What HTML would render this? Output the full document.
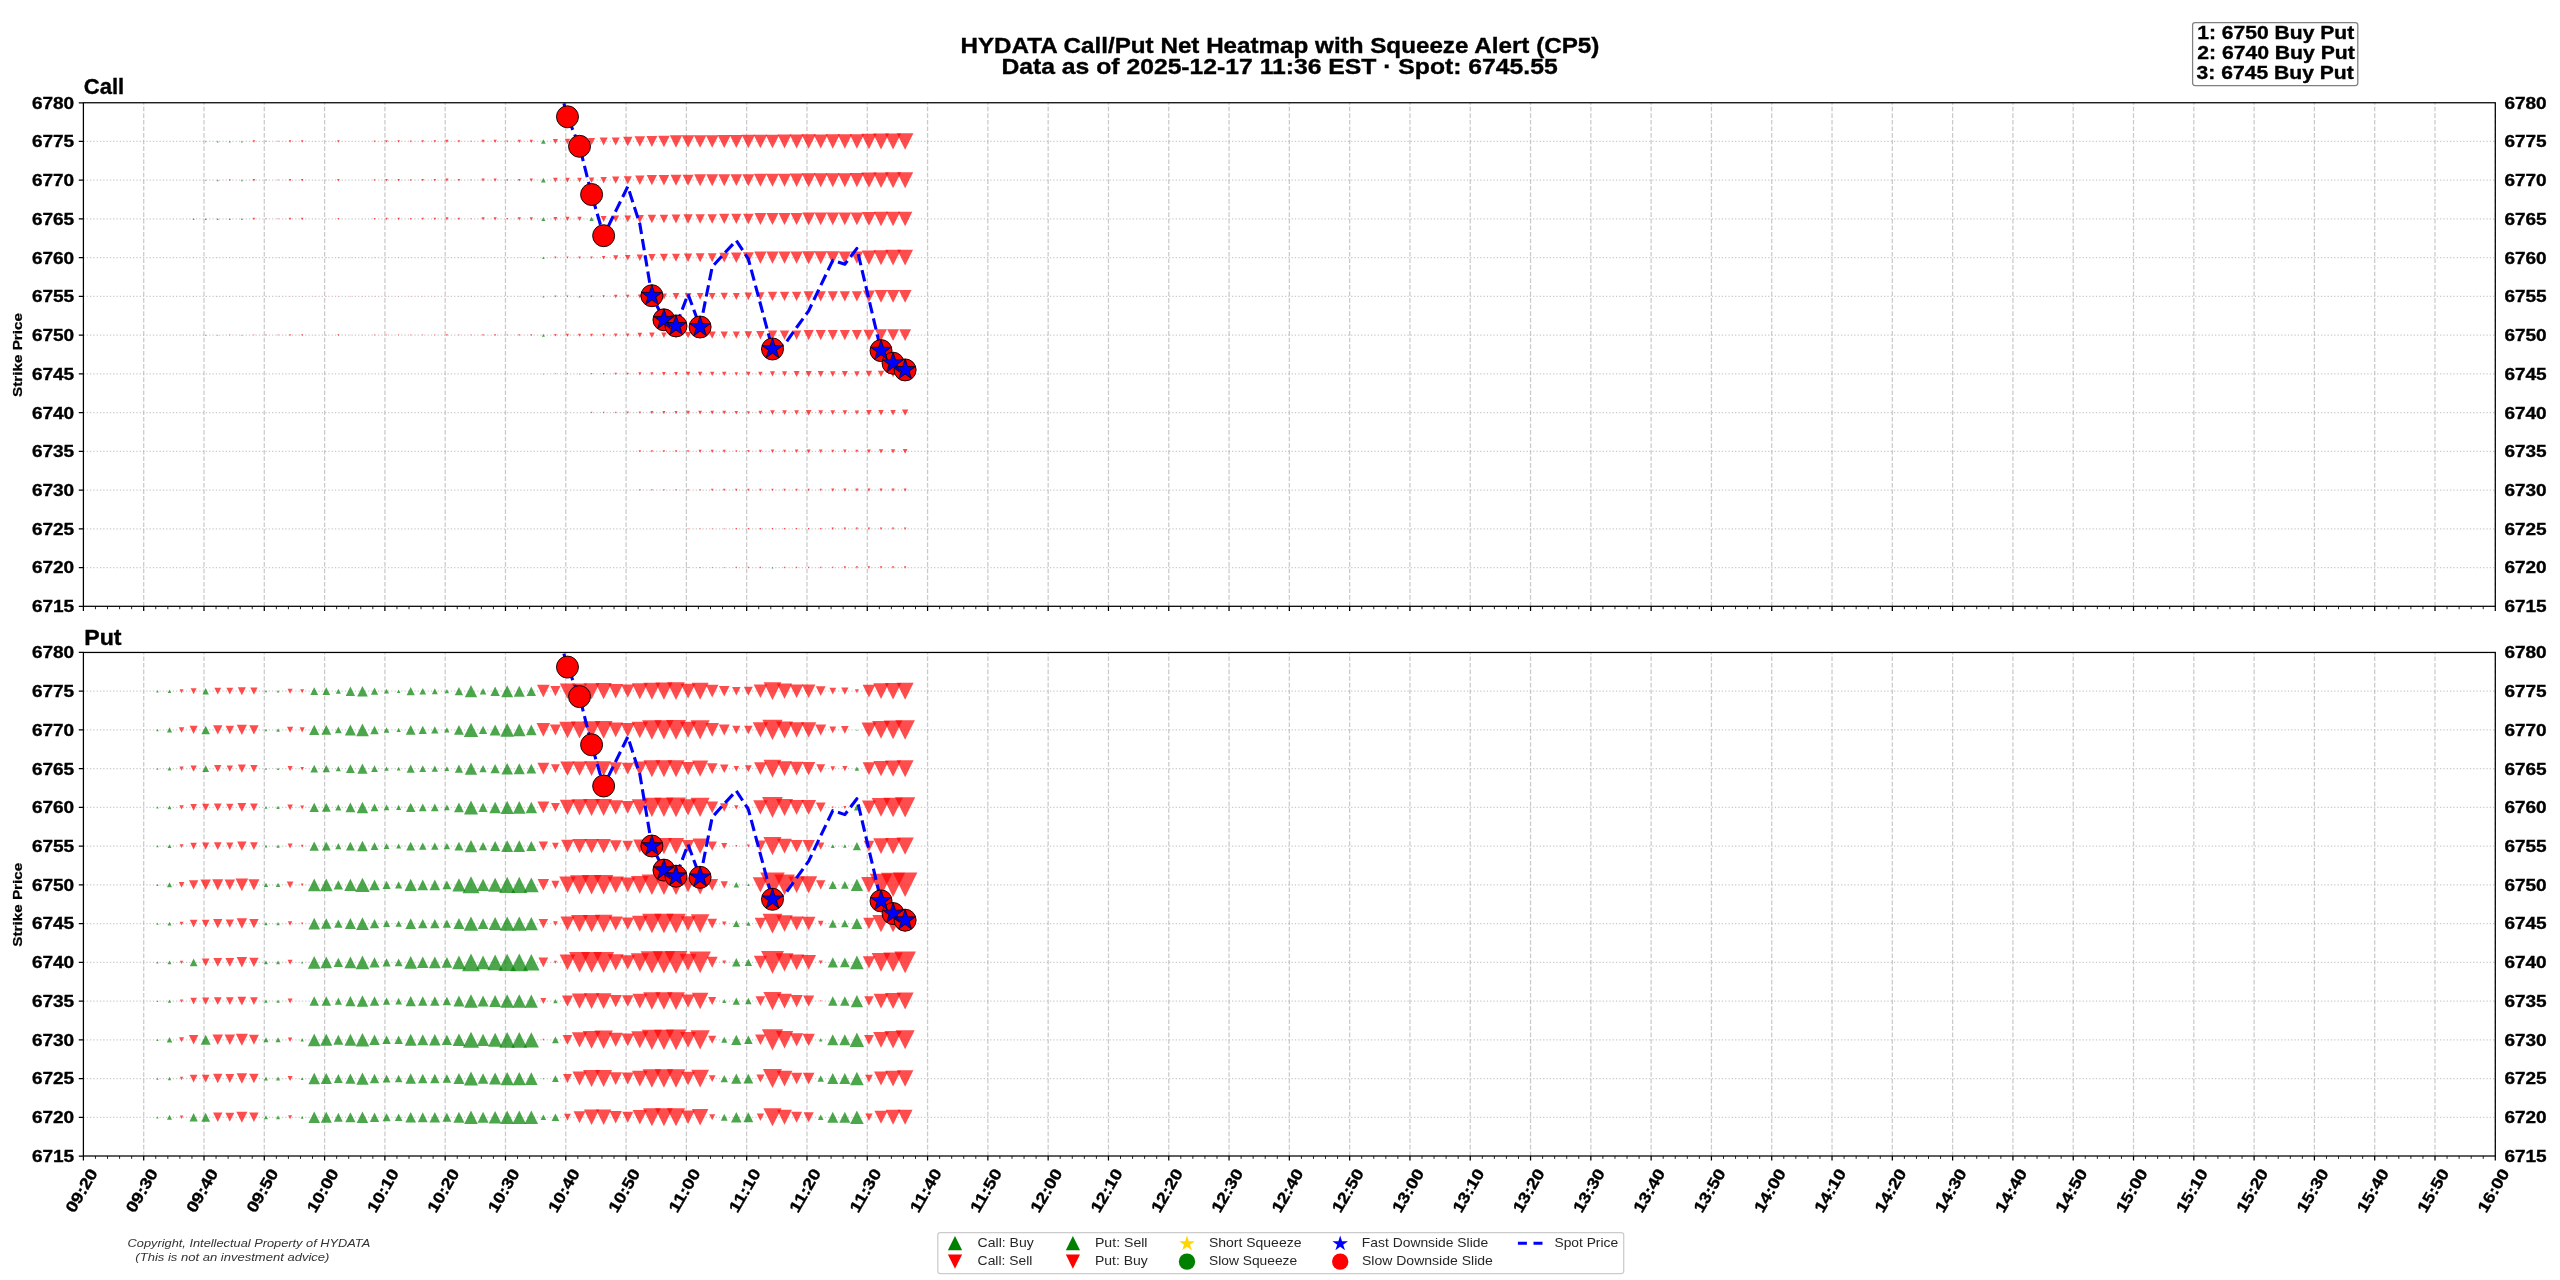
<!DOCTYPE html><html><head><meta charset="utf-8"><style>html,body{margin:0;padding:0;background:#fff}svg{display:block;will-change:transform}text{font-family:"Liberation Sans",sans-serif}</style></head><body>
<svg width="2560" height="1280" viewBox="0 0 2560 1280">
<rect width="2560" height="1280" fill="#fff"/>
<defs>
<clipPath id="clip_call"><rect x="83.4" y="102.75" width="2411.9" height="503.55"/></clipPath>
<clipPath id="clip_put"><rect x="83.4" y="652.45" width="2411.9" height="503.55"/></clipPath>
</defs>
<path d="M143.7 606.3V102.75M204 606.3V102.75M264.29 606.3V102.75M324.59 606.3V102.75M384.89 606.3V102.75M445.18 606.3V102.75M505.48 606.3V102.75M565.78 606.3V102.75M626.08 606.3V102.75M686.38 606.3V102.75M746.67 606.3V102.75M806.97 606.3V102.75M867.27 606.3V102.75M927.56 606.3V102.75M987.86 606.3V102.75M1048.16 606.3V102.75M1108.46 606.3V102.75M1168.76 606.3V102.75M1229.05 606.3V102.75M1289.35 606.3V102.75M1349.65 606.3V102.75M1409.95 606.3V102.75M1470.24 606.3V102.75M1530.54 606.3V102.75M1590.84 606.3V102.75M1651.13 606.3V102.75M1711.43 606.3V102.75M1771.73 606.3V102.75M1832.03 606.3V102.75M1892.33 606.3V102.75M1952.62 606.3V102.75M2012.92 606.3V102.75M2073.22 606.3V102.75M2133.51 606.3V102.75M2193.81 606.3V102.75M2254.11 606.3V102.75M2314.41 606.3V102.75M2374.7 606.3V102.75M2435 606.3V102.75M2495.3 606.3V102.75" stroke="#b0b0b0" stroke-opacity="0.67" stroke-width="1.25" stroke-dasharray="4.6 2" fill="none"/>
<path d="M83.4 567.57H2495.3M83.4 528.83H2495.3M83.4 490.1H2495.3M83.4 451.36H2495.3M83.4 412.63H2495.3M83.4 373.89H2495.3M83.4 335.16H2495.3M83.4 296.42H2495.3M83.4 257.69H2495.3M83.4 218.95H2495.3M83.4 180.22H2495.3M83.4 141.48H2495.3" stroke="#b0b0b0" stroke-opacity="0.67" stroke-width="1.25" stroke-dasharray="1.25 2.06" fill="none"/>
<g clip-path="url(#clip_call)">
<g fill="#008000" fill-opacity="0.7"><path d="M205.68 140.83L205.03 142.13L206.33 142.13Z"/><path d="M217.74 140.51L216.77 142.46L218.72 142.46Z"/><path d="M229.8 140.51L228.83 142.46L230.78 142.46Z"/><path d="M241.86 140.51L240.89 142.46L242.84 142.46Z"/><path d="M362.46 141.16L362.13 141.81L362.78 141.81Z"/><path d="M543.35 139.13L541 143.83L545.7 143.83Z"/><path d="M193.62 179.89L193.3 180.54L193.95 180.54Z"/><path d="M205.68 179.57L205.03 180.87L206.33 180.87Z"/><path d="M217.74 179.24L216.77 181.19L218.72 181.19Z"/><path d="M241.86 179.24L240.89 181.19L242.84 181.19Z"/><path d="M314.22 179.89L313.89 180.54L314.54 180.54Z"/><path d="M326.28 179.89L325.95 180.54L326.6 180.54Z"/><path d="M362.46 179.89L362.13 180.54L362.78 180.54Z"/><path d="M543.35 177.87L541 182.57L545.7 182.57Z"/><path d="M181.56 218.63L181.24 219.28L181.89 219.28Z"/><path d="M193.62 217.98L192.65 219.93L194.6 219.93Z"/><path d="M205.68 217.98L204.71 219.93L206.66 219.93Z"/><path d="M217.74 217.98L216.77 219.93L218.72 219.93Z"/><path d="M229.8 217.98L228.83 219.93L230.78 219.93Z"/><path d="M241.86 217.98L240.89 219.93L242.84 219.93Z"/><path d="M314.22 218.63L313.89 219.28L314.54 219.28Z"/><path d="M326.28 218.63L325.95 219.28L326.6 219.28Z"/><path d="M362.46 218.63L362.13 219.28L362.78 219.28Z"/><path d="M543.35 217L541.4 220.9L545.3 220.9Z"/><path d="M591.59 216.8L589.44 221.1L593.74 221.1Z"/><path d="M543.35 256.44L542.1 258.94L544.6 258.94Z"/><path d="M543.35 295.42L542.35 297.42L544.35 297.42Z"/><path d="M579.53 295.42L578.53 297.42L580.53 297.42Z"/><path d="M193.62 334.83L193.3 335.48L193.95 335.48Z"/><path d="M205.68 334.51L205.03 335.81L206.33 335.81Z"/><path d="M217.74 334.51L217.09 335.81L218.39 335.81Z"/><path d="M241.86 334.51L241.21 335.81L242.51 335.81Z"/><path d="M314.22 334.83L313.89 335.48L314.54 335.48Z"/><path d="M326.28 334.83L325.95 335.48L326.6 335.48Z"/><path d="M362.46 334.83L362.13 335.48L362.78 335.48Z"/><path d="M543.35 333.66L541.85 336.66L544.85 336.66Z"/><path d="M543.35 373.32L542.77 374.47L543.92 374.47Z"/><path d="M579.53 373.32L578.95 374.47L580.1 374.47Z"/><path d="M772.48 566.67L771.58 568.47L773.38 568.47Z"/></g>
<g fill="#ff0000" fill-opacity="0.7"><path d="M181.56 141.81L181.24 141.16L181.89 141.16Z"/><path d="M193.62 141.81L193.3 141.16L193.95 141.16Z"/><path d="M253.92 142.78L252.62 140.18L255.22 140.18Z"/><path d="M265.98 142.13L265.33 140.83L266.63 140.83Z"/><path d="M278.04 142.13L277.39 140.83L278.69 140.83Z"/><path d="M290.1 142.78L288.8 140.18L291.4 140.18Z"/><path d="M302.16 142.78L300.86 140.18L303.46 140.18Z"/><path d="M314.22 141.81L313.89 141.16L314.54 141.16Z"/><path d="M326.28 141.81L325.95 141.16L326.6 141.16Z"/><path d="M338.34 142.78L337.04 140.18L339.64 140.18Z"/><path d="M374.52 142.46L373.54 140.51L375.49 140.51Z"/><path d="M386.58 142.78L385.28 140.18L387.88 140.18Z"/><path d="M398.64 142.78L397.34 140.18L399.94 140.18Z"/><path d="M410.69 142.46L409.72 140.51L411.67 140.51Z"/><path d="M422.75 142.78L421.45 140.18L424.05 140.18Z"/><path d="M434.81 142.78L433.51 140.18L436.11 140.18Z"/><path d="M446.87 143.11L445.25 139.86L448.5 139.86Z"/><path d="M458.93 142.78L457.63 140.18L460.23 140.18Z"/><path d="M470.99 142.13L470.34 140.83L471.64 140.83Z"/><path d="M483.05 143.11L481.43 139.86L484.68 139.86Z"/><path d="M495.11 143.11L493.49 139.86L496.74 139.86Z"/><path d="M507.17 142.46L506.2 140.51L508.15 140.51Z"/><path d="M519.23 143.11L517.61 139.86L520.86 139.86Z"/><path d="M531.29 143.11L529.66 139.86L532.91 139.86Z"/><path d="M555.41 144.03L552.86 138.93L557.96 138.93Z"/><path d="M567.47 144.13L564.82 138.83L570.12 138.83Z"/><path d="M579.53 144.48L576.53 138.48L582.53 138.48Z"/><path d="M591.59 144.98L588.09 137.98L595.09 137.98Z"/><path d="M603.65 145.53L599.6 137.43L607.7 137.43Z"/><path d="M615.71 145.53L611.66 137.43L619.76 137.43Z"/><path d="M627.77 146.18L623.07 136.78L632.47 136.78Z"/><path d="M639.83 146.78L634.53 136.18L645.13 136.18Z"/><path d="M651.88 146.98L646.38 135.98L657.38 135.98Z"/><path d="M663.94 147.28L658.14 135.68L669.74 135.68Z"/><path d="M676 147.63L669.85 135.33L682.15 135.33Z"/><path d="M688.06 147.83L681.71 135.13L694.41 135.13Z"/><path d="M700.12 147.83L693.77 135.13L706.47 135.13Z"/><path d="M712.18 147.83L705.83 135.13L718.53 135.13Z"/><path d="M724.24 148.08L717.64 134.88L730.84 134.88Z"/><path d="M736.3 148.03L729.75 134.93L742.85 134.93Z"/><path d="M748.36 148.13L741.71 134.83L755.01 134.83Z"/><path d="M760.42 148.28L753.62 134.68L767.22 134.68Z"/><path d="M772.48 148.33L765.63 134.63L779.33 134.63Z"/><path d="M784.54 148.38L777.64 134.58L791.44 134.58Z"/><path d="M796.6 148.48L789.6 134.48L803.6 134.48Z"/><path d="M808.66 148.68L801.46 134.28L815.86 134.28Z"/><path d="M820.72 148.58L813.62 134.38L827.82 134.38Z"/><path d="M832.78 148.68L825.58 134.28L839.98 134.28Z"/><path d="M844.84 148.68L837.64 134.28L852.04 134.28Z"/><path d="M856.9 148.68L849.7 134.28L864.1 134.28Z"/><path d="M868.96 149.18L861.26 133.78L876.66 133.78Z"/><path d="M881.02 149.43L873.07 133.53L888.97 133.53Z"/><path d="M893.07 149.53L885.02 133.43L901.12 133.43Z"/><path d="M905.13 149.83L896.78 133.13L913.48 133.13Z"/><path d="M229.8 181.19L228.83 179.24L230.78 179.24Z"/><path d="M253.92 181.52L252.62 178.92L255.22 178.92Z"/><path d="M265.98 180.87L265.33 179.57L266.63 179.57Z"/><path d="M278.04 180.87L277.39 179.57L278.69 179.57Z"/><path d="M290.1 181.52L288.8 178.92L291.4 178.92Z"/><path d="M302.16 181.52L300.86 178.92L303.46 178.92Z"/><path d="M338.34 181.52L337.04 178.92L339.64 178.92Z"/><path d="M374.52 181.19L373.54 179.24L375.49 179.24Z"/><path d="M386.58 181.52L385.28 178.92L387.88 178.92Z"/><path d="M398.64 181.52L397.34 178.92L399.94 178.92Z"/><path d="M410.69 181.19L409.72 179.24L411.67 179.24Z"/><path d="M422.75 181.52L421.45 178.92L424.05 178.92Z"/><path d="M434.81 181.52L433.51 178.92L436.11 178.92Z"/><path d="M446.87 181.84L445.25 178.59L448.5 178.59Z"/><path d="M458.93 181.52L457.63 178.92L460.23 178.92Z"/><path d="M470.99 180.87L470.34 179.57L471.64 179.57Z"/><path d="M483.05 181.84L481.43 178.59L484.68 178.59Z"/><path d="M495.11 181.84L493.49 178.59L496.74 178.59Z"/><path d="M507.17 181.19L506.2 179.24L508.15 179.24Z"/><path d="M519.23 181.52L517.93 178.92L520.53 178.92Z"/><path d="M531.29 181.84L529.66 178.59L532.91 178.59Z"/><path d="M555.41 182.57L553.06 177.87L557.76 177.87Z"/><path d="M567.47 182.57L565.12 177.87L569.82 177.87Z"/><path d="M579.53 182.57L577.18 177.87L581.88 177.87Z"/><path d="M591.59 182.97L588.84 177.47L594.34 177.47Z"/><path d="M603.65 183.42L600.45 177.02L606.85 177.02Z"/><path d="M615.71 183.87L612.06 176.57L619.36 176.57Z"/><path d="M627.77 184.27L623.72 176.17L631.82 176.17Z"/><path d="M639.83 184.92L635.13 175.52L644.53 175.52Z"/><path d="M651.88 185.32L646.78 175.12L656.98 175.12Z"/><path d="M663.94 185.52L658.64 174.92L669.24 174.92Z"/><path d="M676 185.72L670.5 174.72L681.5 174.72Z"/><path d="M688.06 185.72L682.56 174.72L693.56 174.72Z"/><path d="M700.12 186.17L694.17 174.27L706.07 174.27Z"/><path d="M712.18 186.17L706.23 174.27L718.13 174.27Z"/><path d="M724.24 186.17L718.29 174.27L730.19 174.27Z"/><path d="M736.3 186.07L730.45 174.37L742.15 174.37Z"/><path d="M748.36 186.17L742.41 174.27L754.31 174.27Z"/><path d="M760.42 186.67L753.97 173.77L766.87 173.77Z"/><path d="M772.48 186.67L766.03 173.77L778.93 173.77Z"/><path d="M784.54 186.67L778.09 173.77L790.99 173.77Z"/><path d="M796.6 186.92L789.9 173.52L803.3 173.52Z"/><path d="M808.66 187.17L801.71 173.27L815.61 173.27Z"/><path d="M820.72 187.17L813.77 173.27L827.67 173.27Z"/><path d="M832.78 187.17L825.83 173.27L839.73 173.27Z"/><path d="M844.84 187.17L837.89 173.27L851.79 173.27Z"/><path d="M856.9 187.32L849.8 173.12L864 173.12Z"/><path d="M868.96 187.87L861.31 172.57L876.61 172.57Z"/><path d="M881.02 188.02L873.22 172.42L888.82 172.42Z"/><path d="M893.07 188.27L885.02 172.17L901.12 172.17Z"/><path d="M905.13 188.27L897.08 172.17L913.18 172.17Z"/><path d="M253.92 220.25L252.62 217.65L255.22 217.65Z"/><path d="M265.98 219.6L265.33 218.3L266.63 218.3Z"/><path d="M278.04 219.6L277.39 218.3L278.69 218.3Z"/><path d="M290.1 220.25L288.8 217.65L291.4 217.65Z"/><path d="M302.16 220.25L300.86 217.65L303.46 217.65Z"/><path d="M338.34 219.93L337.36 217.98L339.31 217.98Z"/><path d="M374.52 219.93L373.54 217.98L375.49 217.98Z"/><path d="M386.58 220.25L385.28 217.65L387.88 217.65Z"/><path d="M398.64 220.25L397.34 217.65L399.94 217.65Z"/><path d="M410.69 219.93L409.72 217.98L411.67 217.98Z"/><path d="M422.75 220.25L421.45 217.65L424.05 217.65Z"/><path d="M434.81 220.25L433.51 217.65L436.11 217.65Z"/><path d="M446.87 220.58L445.25 217.33L448.5 217.33Z"/><path d="M458.93 220.25L457.63 217.65L460.23 217.65Z"/><path d="M470.99 219.6L470.34 218.3L471.64 218.3Z"/><path d="M483.05 220.58L481.43 217.33L484.68 217.33Z"/><path d="M495.11 220.58L493.49 217.33L496.74 217.33Z"/><path d="M507.17 219.93L506.2 217.98L508.15 217.98Z"/><path d="M519.23 220.58L517.61 217.33L520.86 217.33Z"/><path d="M531.29 220.58L529.66 217.33L532.91 217.33Z"/><path d="M555.41 220.9L553.46 217L557.36 217Z"/><path d="M567.47 221.1L565.32 216.8L569.62 216.8Z"/><path d="M579.53 221.1L577.38 216.8L581.68 216.8Z"/><path d="M603.65 221.95L600.65 215.95L606.65 215.95Z"/><path d="M615.71 222.35L612.31 215.55L619.11 215.55Z"/><path d="M627.77 222.35L624.37 215.55L631.17 215.55Z"/><path d="M639.83 223L635.78 214.9L643.88 214.9Z"/><path d="M651.88 223.2L647.63 214.7L656.13 214.7Z"/><path d="M663.94 223.2L659.69 214.7L668.19 214.7Z"/><path d="M676 223.4L671.55 214.5L680.45 214.5Z"/><path d="M688.06 223.65L683.36 214.25L692.76 214.25Z"/><path d="M700.12 223.65L695.42 214.25L704.82 214.25Z"/><path d="M712.18 223.65L707.48 214.25L716.88 214.25Z"/><path d="M724.24 224.05L719.14 213.85L729.34 213.85Z"/><path d="M736.3 224.05L731.2 213.85L741.4 213.85Z"/><path d="M748.36 224.25L743.06 213.65L753.66 213.65Z"/><path d="M760.42 224.9L754.47 213L766.37 213Z"/><path d="M772.48 225L766.43 212.9L778.53 212.9Z"/><path d="M784.54 225L778.49 212.9L790.59 212.9Z"/><path d="M796.6 225L790.55 212.9L802.65 212.9Z"/><path d="M808.66 225.3L802.31 212.6L815.01 212.6Z"/><path d="M820.72 225.3L814.37 212.6L827.07 212.6Z"/><path d="M832.78 225.3L826.43 212.6L839.13 212.6Z"/><path d="M844.84 225.3L838.49 212.6L851.19 212.6Z"/><path d="M856.9 225.3L850.55 212.6L863.25 212.6Z"/><path d="M868.96 225.85L862.06 212.05L875.86 212.05Z"/><path d="M881.02 226.15L873.82 211.75L888.22 211.75Z"/><path d="M893.07 226.15L885.87 211.75L900.27 211.75Z"/><path d="M905.13 226.15L897.93 211.75L912.33 211.75Z"/><path d="M193.62 258.01L193.3 257.36L193.95 257.36Z"/><path d="M205.68 258.01L205.36 257.36L206.01 257.36Z"/><path d="M217.74 258.01L217.42 257.36L218.07 257.36Z"/><path d="M229.8 258.01L229.48 257.36L230.13 257.36Z"/><path d="M241.86 258.01L241.54 257.36L242.19 257.36Z"/><path d="M253.92 258.01L253.6 257.36L254.25 257.36Z"/><path d="M265.98 258.01L265.66 257.36L266.31 257.36Z"/><path d="M278.04 258.01L277.72 257.36L278.37 257.36Z"/><path d="M290.1 258.01L289.77 257.36L290.42 257.36Z"/><path d="M302.16 258.01L301.83 257.36L302.48 257.36Z"/><path d="M314.22 258.01L313.89 257.36L314.54 257.36Z"/><path d="M326.28 258.01L325.95 257.36L326.6 257.36Z"/><path d="M338.34 258.01L338.01 257.36L338.66 257.36Z"/><path d="M350.4 258.01L350.07 257.36L350.72 257.36Z"/><path d="M362.46 258.01L362.13 257.36L362.78 257.36Z"/><path d="M374.52 258.01L374.19 257.36L374.84 257.36Z"/><path d="M386.58 258.01L386.25 257.36L386.9 257.36Z"/><path d="M398.64 258.01L398.31 257.36L398.96 257.36Z"/><path d="M410.69 258.01L410.37 257.36L411.02 257.36Z"/><path d="M422.75 258.01L422.43 257.36L423.08 257.36Z"/><path d="M434.81 258.01L434.49 257.36L435.14 257.36Z"/><path d="M446.87 258.01L446.55 257.36L447.2 257.36Z"/><path d="M458.93 258.01L458.61 257.36L459.26 257.36Z"/><path d="M470.99 258.01L470.67 257.36L471.32 257.36Z"/><path d="M483.05 258.01L482.73 257.36L483.38 257.36Z"/><path d="M495.11 258.01L494.79 257.36L495.44 257.36Z"/><path d="M507.17 258.01L506.85 257.36L507.5 257.36Z"/><path d="M519.23 258.01L518.91 257.36L519.56 257.36Z"/><path d="M531.29 258.01L530.96 257.36L531.61 257.36Z"/><path d="M555.41 258.79L554.31 256.59L556.51 256.59Z"/><path d="M567.47 258.79L566.37 256.59L568.57 256.59Z"/><path d="M579.53 258.94L578.28 256.44L580.78 256.44Z"/><path d="M591.59 258.94L590.34 256.44L592.84 256.44Z"/><path d="M603.65 259.44L601.9 255.94L605.4 255.94Z"/><path d="M615.71 260.24L613.16 255.14L618.26 255.14Z"/><path d="M627.77 260.44L625.02 254.94L630.52 254.94Z"/><path d="M639.83 260.89L636.63 254.49L643.03 254.49Z"/><path d="M651.88 261.34L648.23 254.04L655.53 254.04Z"/><path d="M663.94 261.74L659.89 253.64L667.99 253.64Z"/><path d="M676 261.74L671.95 253.64L680.05 253.64Z"/><path d="M688.06 261.89L683.86 253.49L692.26 253.49Z"/><path d="M700.12 262.14L695.67 253.24L704.57 253.24Z"/><path d="M712.18 262.14L707.73 253.24L716.63 253.24Z"/><path d="M724.24 262.59L719.34 252.79L729.14 252.79Z"/><path d="M736.3 262.99L731 252.39L741.6 252.39Z"/><path d="M748.36 263.14L742.91 252.24L753.81 252.24Z"/><path d="M760.42 263.84L754.27 251.54L766.57 251.54Z"/><path d="M772.48 263.84L766.33 251.54L778.63 251.54Z"/><path d="M784.54 263.84L778.39 251.54L790.69 251.54Z"/><path d="M796.6 263.84L790.45 251.54L802.75 251.54Z"/><path d="M808.66 264.19L802.16 251.19L815.16 251.19Z"/><path d="M820.72 264.19L814.22 251.19L827.22 251.19Z"/><path d="M832.78 264.19L826.28 251.19L839.28 251.19Z"/><path d="M844.84 263.94L838.59 251.44L851.09 251.44Z"/><path d="M856.9 263.84L850.75 251.54L863.05 251.54Z"/><path d="M868.96 264.89L861.76 250.49L876.16 250.49Z"/><path d="M881.02 265.19L873.52 250.19L888.52 250.19Z"/><path d="M893.07 265.54L885.22 249.84L900.92 249.84Z"/><path d="M905.13 265.54L897.28 249.84L912.98 249.84Z"/><path d="M193.62 296.75L193.3 296.1L193.95 296.1Z"/><path d="M205.68 296.75L205.36 296.1L206.01 296.1Z"/><path d="M217.74 296.75L217.42 296.1L218.07 296.1Z"/><path d="M229.8 296.75L229.48 296.1L230.13 296.1Z"/><path d="M241.86 296.75L241.54 296.1L242.19 296.1Z"/><path d="M253.92 296.75L253.6 296.1L254.25 296.1Z"/><path d="M265.98 296.75L265.66 296.1L266.31 296.1Z"/><path d="M278.04 296.75L277.72 296.1L278.37 296.1Z"/><path d="M290.1 296.75L289.77 296.1L290.42 296.1Z"/><path d="M302.16 296.75L301.83 296.1L302.48 296.1Z"/><path d="M314.22 296.75L313.89 296.1L314.54 296.1Z"/><path d="M326.28 296.75L325.95 296.1L326.6 296.1Z"/><path d="M338.34 296.75L338.01 296.1L338.66 296.1Z"/><path d="M350.4 296.75L350.07 296.1L350.72 296.1Z"/><path d="M362.46 296.75L362.13 296.1L362.78 296.1Z"/><path d="M374.52 296.75L374.19 296.1L374.84 296.1Z"/><path d="M386.58 296.75L386.25 296.1L386.9 296.1Z"/><path d="M398.64 296.75L398.31 296.1L398.96 296.1Z"/><path d="M410.69 296.75L410.37 296.1L411.02 296.1Z"/><path d="M422.75 296.75L422.43 296.1L423.08 296.1Z"/><path d="M434.81 296.75L434.49 296.1L435.14 296.1Z"/><path d="M446.87 296.75L446.55 296.1L447.2 296.1Z"/><path d="M458.93 296.75L458.61 296.1L459.26 296.1Z"/><path d="M470.99 296.75L470.67 296.1L471.32 296.1Z"/><path d="M483.05 296.75L482.73 296.1L483.38 296.1Z"/><path d="M495.11 296.75L494.79 296.1L495.44 296.1Z"/><path d="M507.17 296.75L506.85 296.1L507.5 296.1Z"/><path d="M519.23 296.75L518.91 296.1L519.56 296.1Z"/><path d="M531.29 296.75L530.96 296.1L531.61 296.1Z"/><path d="M555.41 297.42L554.41 295.42L556.41 295.42Z"/><path d="M567.47 297.42L566.47 295.42L568.47 295.42Z"/><path d="M591.59 297.42L590.59 295.42L592.59 295.42Z"/><path d="M603.65 297.67L602.4 295.17L604.9 295.17Z"/><path d="M615.71 298.17L613.96 294.67L617.46 294.67Z"/><path d="M627.77 298.17L626.02 294.67L629.52 294.67Z"/><path d="M639.83 298.42L637.83 294.42L641.83 294.42Z"/><path d="M651.88 298.92L649.38 293.92L654.38 293.92Z"/><path d="M663.94 299.42L660.94 293.42L666.94 293.42Z"/><path d="M676 299.82L672.6 293.02L679.4 293.02Z"/><path d="M688.06 299.82L684.66 293.02L691.46 293.02Z"/><path d="M700.12 299.82L696.72 293.02L703.52 293.02Z"/><path d="M712.18 299.82L708.78 293.02L715.58 293.02Z"/><path d="M724.24 300.07L720.59 292.77L727.89 292.77Z"/><path d="M736.3 299.92L732.8 292.92L739.8 292.92Z"/><path d="M748.36 300.27L744.51 292.57L752.21 292.57Z"/><path d="M760.42 300.47L756.37 292.37L764.47 292.37Z"/><path d="M772.48 301.12L767.78 291.72L777.18 291.72Z"/><path d="M784.54 301.12L779.84 291.72L789.24 291.72Z"/><path d="M796.6 301.12L791.9 291.72L801.3 291.72Z"/><path d="M808.66 301.52L803.56 291.32L813.76 291.32Z"/><path d="M820.72 301.52L815.62 291.32L825.82 291.32Z"/><path d="M832.78 301.52L827.68 291.32L837.88 291.32Z"/><path d="M844.84 301.52L839.74 291.32L849.94 291.32Z"/><path d="M856.9 301.52L851.8 291.32L862 291.32Z"/><path d="M868.96 302.37L863.01 290.47L874.91 290.47Z"/><path d="M881.02 302.77L874.67 290.07L887.37 290.07Z"/><path d="M893.07 302.77L886.72 290.07L899.42 290.07Z"/><path d="M905.13 302.77L898.78 290.07L911.48 290.07Z"/><path d="M181.56 335.48L181.24 334.83L181.89 334.83Z"/><path d="M229.8 335.81L229.15 334.51L230.45 334.51Z"/><path d="M253.92 335.81L253.27 334.51L254.57 334.51Z"/><path d="M265.98 335.81L265.33 334.51L266.63 334.51Z"/><path d="M278.04 335.81L277.39 334.51L278.69 334.51Z"/><path d="M290.1 336.13L289.12 334.18L291.07 334.18Z"/><path d="M302.16 336.13L301.18 334.18L303.13 334.18Z"/><path d="M338.34 336.13L337.36 334.18L339.31 334.18Z"/><path d="M350.4 335.48L350.07 334.83L350.72 334.83Z"/><path d="M374.52 335.81L373.87 334.51L375.17 334.51Z"/><path d="M386.58 335.81L385.93 334.51L387.23 334.51Z"/><path d="M398.64 335.81L397.99 334.51L399.29 334.51Z"/><path d="M410.69 335.81L410.04 334.51L411.34 334.51Z"/><path d="M422.75 335.81L422.1 334.51L423.4 334.51Z"/><path d="M434.81 335.81L434.16 334.51L435.46 334.51Z"/><path d="M446.87 336.13L445.9 334.18L447.85 334.18Z"/><path d="M458.93 335.81L458.28 334.51L459.58 334.51Z"/><path d="M470.99 335.81L470.34 334.51L471.64 334.51Z"/><path d="M483.05 336.13L482.08 334.18L484.03 334.18Z"/><path d="M495.11 336.13L494.14 334.18L496.09 334.18Z"/><path d="M507.17 335.81L506.52 334.51L507.82 334.51Z"/><path d="M519.23 336.13L518.26 334.18L520.21 334.18Z"/><path d="M531.29 336.13L530.31 334.18L532.26 334.18Z"/><path d="M555.41 336.41L554.16 333.91L556.66 333.91Z"/><path d="M567.47 336.66L565.97 333.66L568.97 333.66Z"/><path d="M579.53 336.66L578.03 333.66L581.03 333.66Z"/><path d="M591.59 336.66L590.09 333.66L593.09 333.66Z"/><path d="M603.65 336.66L602.15 333.66L605.15 333.66Z"/><path d="M615.71 336.91L613.96 333.41L617.46 333.41Z"/><path d="M627.77 336.91L626.02 333.41L629.52 333.41Z"/><path d="M639.83 337.51L637.48 332.81L642.18 332.81Z"/><path d="M651.88 337.91L649.13 332.41L654.63 332.41Z"/><path d="M663.94 337.91L661.19 332.41L666.69 332.41Z"/><path d="M676 338.16L673 332.16L679 332.16Z"/><path d="M688.06 338.36L684.86 331.96L691.26 331.96Z"/><path d="M700.12 338.56L696.72 331.76L703.52 331.76Z"/><path d="M712.18 338.81L708.53 331.51L715.83 331.51Z"/><path d="M724.24 338.81L720.59 331.51L727.89 331.51Z"/><path d="M736.3 338.71L732.75 331.61L739.85 331.61Z"/><path d="M748.36 339.01L744.51 331.31L752.21 331.31Z"/><path d="M760.42 339.41L756.17 330.91L764.67 330.91Z"/><path d="M772.48 339.86L767.78 330.46L777.18 330.46Z"/><path d="M784.54 339.86L779.84 330.46L789.24 330.46Z"/><path d="M796.6 339.86L791.9 330.46L801.3 330.46Z"/><path d="M808.66 340.26L803.56 330.06L813.76 330.06Z"/><path d="M820.72 340.26L815.62 330.06L825.82 330.06Z"/><path d="M832.78 340.26L827.68 330.06L837.88 330.06Z"/><path d="M844.84 340.26L839.74 330.06L849.94 330.06Z"/><path d="M856.9 340.26L851.8 330.06L862 330.06Z"/><path d="M868.96 340.66L863.46 329.66L874.46 329.66Z"/><path d="M881.02 341.11L875.07 329.21L886.97 329.21Z"/><path d="M893.07 341.11L887.12 329.21L899.02 329.21Z"/><path d="M905.13 341.11L899.18 329.21L911.08 329.21Z"/><path d="M555.41 374.47L554.83 373.32L555.98 373.32Z"/><path d="M567.47 374.47L566.89 373.32L568.04 373.32Z"/><path d="M591.59 374.79L590.69 372.99L592.49 372.99Z"/><path d="M603.65 374.79L602.75 372.99L604.55 372.99Z"/><path d="M615.71 375.12L614.48 372.67L616.93 372.67Z"/><path d="M627.77 375.12L626.54 372.67L628.99 372.67Z"/><path d="M639.83 375.44L638.28 372.34L641.38 372.34Z"/><path d="M651.88 375.44L650.33 372.34L653.43 372.34Z"/><path d="M663.94 375.77L662.07 372.02L665.82 372.02Z"/><path d="M676 375.77L674.13 372.02L677.88 372.02Z"/><path d="M688.06 376.09L685.86 371.69L690.26 371.69Z"/><path d="M700.12 376.09L697.92 371.69L702.32 371.69Z"/><path d="M712.18 376.09L709.98 371.69L714.38 371.69Z"/><path d="M724.24 376.09L722.04 371.69L726.44 371.69Z"/><path d="M736.3 375.64L734.55 372.14L738.05 372.14Z"/><path d="M748.36 376.04L746.21 371.74L750.51 371.74Z"/><path d="M760.42 376.04L758.27 371.74L762.57 371.74Z"/><path d="M772.48 376.44L769.93 371.34L775.03 371.34Z"/><path d="M784.54 376.44L781.99 371.34L787.09 371.34Z"/><path d="M796.6 376.89L793.6 370.89L799.6 370.89Z"/><path d="M808.66 376.89L805.66 370.89L811.66 370.89Z"/><path d="M820.72 376.89L817.72 370.89L823.72 370.89Z"/><path d="M832.78 376.64L830.03 371.14L835.53 371.14Z"/><path d="M844.84 376.89L841.84 370.89L847.84 370.89Z"/><path d="M856.9 376.64L854.15 371.14L859.65 371.14Z"/><path d="M868.96 377.09L865.76 370.69L872.16 370.69Z"/><path d="M881.02 377.09L877.82 370.69L884.22 370.69Z"/><path d="M893.07 377.14L889.82 370.64L896.32 370.64Z"/><path d="M905.13 377.14L901.88 370.64L908.38 370.64Z"/><path d="M591.59 413.53L590.69 411.73L592.49 411.73Z"/><path d="M603.65 413.53L602.75 411.73L604.55 411.73Z"/><path d="M615.71 413.53L614.81 411.73L616.61 411.73Z"/><path d="M627.77 413.85L626.54 411.4L628.99 411.4Z"/><path d="M639.83 413.85L638.6 411.4L641.05 411.4Z"/><path d="M651.88 414.18L650.33 411.08L653.43 411.08Z"/><path d="M663.94 414.18L662.39 411.08L665.49 411.08Z"/><path d="M676 414.18L674.45 411.08L677.55 411.08Z"/><path d="M688.06 414.5L686.19 410.75L689.94 410.75Z"/><path d="M700.12 414.5L698.25 410.75L702 410.75Z"/><path d="M712.18 414.5L710.31 410.75L714.06 410.75Z"/><path d="M724.24 414.5L722.37 410.75L726.12 410.75Z"/><path d="M736.3 414.38L734.55 410.88L738.05 410.88Z"/><path d="M748.36 414.13L746.86 411.13L749.86 411.13Z"/><path d="M760.42 414.58L758.47 410.68L762.37 410.68Z"/><path d="M772.48 414.98L770.13 410.28L774.83 410.28Z"/><path d="M784.54 414.98L782.19 410.28L786.89 410.28Z"/><path d="M796.6 414.98L794.25 410.28L798.95 410.28Z"/><path d="M808.66 415.38L805.91 409.88L811.41 409.88Z"/><path d="M820.72 414.98L818.37 410.28L823.07 410.28Z"/><path d="M832.78 414.98L830.43 410.28L835.13 410.28Z"/><path d="M844.84 414.98L842.49 410.28L847.19 410.28Z"/><path d="M856.9 414.78L854.75 410.48L859.05 410.48Z"/><path d="M868.96 415.38L866.21 409.88L871.71 409.88Z"/><path d="M881.02 415.38L878.27 409.88L883.77 409.88Z"/><path d="M893.07 415.38L890.32 409.88L895.82 409.88Z"/><path d="M905.13 415.83L901.93 409.43L908.33 409.43Z"/><path d="M639.83 452.59L638.6 450.14L641.05 450.14Z"/><path d="M651.88 452.59L650.66 450.14L653.11 450.14Z"/><path d="M663.94 452.59L662.72 450.14L665.17 450.14Z"/><path d="M676 452.59L674.78 450.14L677.23 450.14Z"/><path d="M688.06 452.59L686.84 450.14L689.29 450.14Z"/><path d="M700.12 452.91L698.57 449.81L701.67 449.81Z"/><path d="M712.18 452.91L710.63 449.81L713.73 449.81Z"/><path d="M724.24 452.91L722.69 449.81L725.79 449.81Z"/><path d="M736.3 452.36L735.3 450.36L737.3 450.36Z"/><path d="M748.36 452.61L747.11 450.11L749.61 450.11Z"/><path d="M760.42 452.86L758.92 449.86L761.92 449.86Z"/><path d="M772.48 453.11L770.73 449.61L774.23 449.61Z"/><path d="M784.54 452.86L783.04 449.86L786.04 449.86Z"/><path d="M796.6 453.11L794.85 449.61L798.35 449.61Z"/><path d="M808.66 453.31L806.71 449.41L810.61 449.41Z"/><path d="M820.72 453.11L818.97 449.61L822.47 449.61Z"/><path d="M832.78 452.86L831.28 449.86L834.28 449.86Z"/><path d="M844.84 453.11L843.09 449.61L846.59 449.61Z"/><path d="M856.9 452.86L855.4 449.86L858.4 449.86Z"/><path d="M868.96 453.31L867.01 449.41L870.91 449.41Z"/><path d="M881.02 453.51L878.87 449.21L883.17 449.21Z"/><path d="M893.07 453.51L890.92 449.21L895.22 449.21Z"/><path d="M905.13 453.71L902.78 449.01L907.48 449.01Z"/><path d="M639.83 491L638.93 489.2L640.73 489.2Z"/><path d="M651.88 491L650.98 489.2L652.78 489.2Z"/><path d="M663.94 491L663.04 489.2L664.84 489.2Z"/><path d="M676 491L675.1 489.2L676.9 489.2Z"/><path d="M688.06 491L687.16 489.2L688.96 489.2Z"/><path d="M700.12 491L699.22 489.2L701.02 489.2Z"/><path d="M712.18 491.32L710.96 488.87L713.41 488.87Z"/><path d="M724.24 491.32L723.02 488.87L725.47 488.87Z"/><path d="M736.3 491.32L735.08 488.87L737.53 488.87Z"/><path d="M748.36 491.32L747.14 488.87L749.59 488.87Z"/><path d="M760.42 491.32L759.2 488.87L761.65 488.87Z"/><path d="M772.48 491.32L771.25 488.87L773.7 488.87Z"/><path d="M784.54 491.32L783.31 488.87L785.76 488.87Z"/><path d="M796.6 491.32L795.37 488.87L797.82 488.87Z"/><path d="M808.66 491.32L807.43 488.87L809.88 488.87Z"/><path d="M820.72 491.32L819.49 488.87L821.94 488.87Z"/><path d="M832.78 491.65L831.23 488.55L834.33 488.55Z"/><path d="M844.84 491.65L843.29 488.55L846.39 488.55Z"/><path d="M856.9 491.65L855.35 488.55L858.45 488.55Z"/><path d="M868.96 491.65L867.41 488.55L870.51 488.55Z"/><path d="M881.02 491.65L879.47 488.55L882.57 488.55Z"/><path d="M893.07 491.65L891.52 488.55L894.62 488.55Z"/><path d="M905.13 491.65L903.58 488.55L906.68 488.55Z"/><path d="M688.06 529.41L687.49 528.26L688.64 528.26Z"/><path d="M700.12 529.41L699.55 528.26L700.7 528.26Z"/><path d="M712.18 529.41L711.61 528.26L712.76 528.26Z"/><path d="M724.24 529.41L723.67 528.26L724.82 528.26Z"/><path d="M736.3 529.73L735.4 527.93L737.2 527.93Z"/><path d="M748.36 529.73L747.46 527.93L749.26 527.93Z"/><path d="M760.42 529.73L759.52 527.93L761.32 527.93Z"/><path d="M772.48 529.73L771.58 527.93L773.38 527.93Z"/><path d="M784.54 529.73L783.64 527.93L785.44 527.93Z"/><path d="M796.6 529.73L795.7 527.93L797.5 527.93Z"/><path d="M808.66 529.73L807.76 527.93L809.56 527.93Z"/><path d="M820.72 529.73L819.82 527.93L821.62 527.93Z"/><path d="M832.78 530.06L831.55 527.61L834 527.61Z"/><path d="M844.84 530.06L843.61 527.61L846.06 527.61Z"/><path d="M856.9 530.06L855.67 527.61L858.12 527.61Z"/><path d="M868.96 530.06L867.73 527.61L870.18 527.61Z"/><path d="M881.02 530.06L879.79 527.61L882.24 527.61Z"/><path d="M893.07 530.06L891.85 527.61L894.3 527.61Z"/><path d="M905.13 530.06L903.91 527.61L906.36 527.61Z"/><path d="M688.06 568.14L687.49 566.99L688.64 566.99Z"/><path d="M700.12 568.14L699.55 566.99L700.7 566.99Z"/><path d="M712.18 568.14L711.61 566.99L712.76 566.99Z"/><path d="M724.24 568.14L723.67 566.99L724.82 566.99Z"/><path d="M736.3 568.47L735.4 566.67L737.2 566.67Z"/><path d="M748.36 568.47L747.46 566.67L749.26 566.67Z"/><path d="M760.42 568.47L759.52 566.67L761.32 566.67Z"/><path d="M784.54 568.47L783.64 566.67L785.44 566.67Z"/><path d="M796.6 568.47L795.7 566.67L797.5 566.67Z"/><path d="M808.66 568.47L807.76 566.67L809.56 566.67Z"/><path d="M820.72 568.47L819.82 566.67L821.62 566.67Z"/><path d="M832.78 568.47L831.88 566.67L833.68 566.67Z"/><path d="M844.84 568.79L843.61 566.34L846.06 566.34Z"/><path d="M856.9 568.79L855.67 566.34L858.12 566.34Z"/><path d="M868.96 568.79L867.73 566.34L870.18 566.34Z"/><path d="M881.02 568.79L879.79 566.34L882.24 566.34Z"/><path d="M893.07 568.79L891.85 566.34L894.3 566.34Z"/><path d="M905.13 568.79L903.91 566.34L906.36 566.34Z"/></g>
<polyline points="555.41,71.5 567.47,116.8 579.53,146.3 591.59,194.5 603.65,235.7 615.71,211.1 627.77,186.6 639.83,223.9 651.88,295.7 663.94,319.8 676,325.9 688.06,294.2 700.12,327 712.18,267 724.24,253.5 736.3,240.5 748.36,259 760.42,304 772.48,349 784.54,344.6 796.6,327.5 808.66,310.8 820.72,285.5 832.78,260.3 844.84,264.3 856.9,248.4 868.96,299.5 881.02,350.6 893.07,363.2 905.13,369.9" fill="none" stroke="#0000ff" stroke-width="3.1" stroke-dasharray="11.5 5" stroke-linejoin="round"/>
<circle cx="567.47" cy="116.8" r="11" fill="#ff0000" stroke="#000" stroke-width="0.9"/>
<circle cx="579.53" cy="146.3" r="11" fill="#ff0000" stroke="#000" stroke-width="0.9"/>
<circle cx="591.59" cy="194.5" r="11" fill="#ff0000" stroke="#000" stroke-width="0.9"/>
<circle cx="603.65" cy="235.7" r="11" fill="#ff0000" stroke="#000" stroke-width="0.9"/>
<circle cx="651.88" cy="295.7" r="11" fill="#ff0000" stroke="#000" stroke-width="0.9"/>
<circle cx="663.94" cy="319.8" r="11" fill="#ff0000" stroke="#000" stroke-width="0.9"/>
<circle cx="676" cy="325.9" r="11" fill="#ff0000" stroke="#000" stroke-width="0.9"/>
<circle cx="700.12" cy="327" r="11" fill="#ff0000" stroke="#000" stroke-width="0.9"/>
<circle cx="772.48" cy="349" r="11" fill="#ff0000" stroke="#000" stroke-width="0.9"/>
<circle cx="881.02" cy="350.6" r="11" fill="#ff0000" stroke="#000" stroke-width="0.9"/>
<circle cx="893.07" cy="363.2" r="11" fill="#ff0000" stroke="#000" stroke-width="0.9"/>
<circle cx="905.13" cy="369.9" r="11" fill="#ff0000" stroke="#000" stroke-width="0.9"/>
<polygon points="651.88,284.8 654.33,292.33 662.25,292.33 655.84,296.99 658.29,304.52 651.88,299.86 645.48,304.52 647.93,296.99 641.52,292.33 649.44,292.33" fill="#0000ff" stroke="#000" stroke-width="0.75" stroke-linejoin="miter"/>
<polygon points="663.94,308.9 666.39,316.43 674.31,316.43 667.9,321.09 670.35,328.62 663.94,323.96 657.54,328.62 659.98,321.09 653.58,316.43 661.5,316.43" fill="#0000ff" stroke="#000" stroke-width="0.75" stroke-linejoin="miter"/>
<polygon points="676,315 678.45,322.53 686.37,322.53 679.96,327.19 682.41,334.72 676,330.06 669.6,334.72 672.04,327.19 665.64,322.53 673.56,322.53" fill="#0000ff" stroke="#000" stroke-width="0.75" stroke-linejoin="miter"/>
<polygon points="700.12,316.1 702.57,323.63 710.49,323.63 704.08,328.29 706.53,335.82 700.12,331.16 693.72,335.82 696.16,328.29 689.76,323.63 697.68,323.63" fill="#0000ff" stroke="#000" stroke-width="0.75" stroke-linejoin="miter"/>
<polygon points="772.48,338.1 774.93,345.63 782.85,345.63 776.44,350.29 778.89,357.82 772.48,353.16 766.07,357.82 768.52,350.29 762.11,345.63 770.03,345.63" fill="#0000ff" stroke="#000" stroke-width="0.75" stroke-linejoin="miter"/>
<polygon points="881.02,339.7 883.46,347.23 891.38,347.23 884.97,351.89 887.42,359.42 881.02,354.76 874.61,359.42 877.06,351.89 870.65,347.23 878.57,347.23" fill="#0000ff" stroke="#000" stroke-width="0.75" stroke-linejoin="miter"/>
<polygon points="893.07,352.3 895.52,359.83 903.44,359.83 897.03,364.49 899.48,372.02 893.07,367.36 886.67,372.02 889.12,364.49 882.71,359.83 890.63,359.83" fill="#0000ff" stroke="#000" stroke-width="0.75" stroke-linejoin="miter"/>
<polygon points="905.13,359 907.58,366.53 915.5,366.53 909.09,371.19 911.54,378.72 905.13,374.06 898.73,378.72 901.17,371.19 894.77,366.53 902.69,366.53" fill="#0000ff" stroke="#000" stroke-width="0.75" stroke-linejoin="miter"/>
</g>
<rect x="83.4" y="102.75" width="2411.9" height="503.55" fill="none" stroke="#000" stroke-width="1.25"/>
<path d="M78.8 606.3H83.4M78.8 567.57H83.4M78.8 528.83H83.4M78.8 490.1H83.4M78.8 451.36H83.4M78.8 412.63H83.4M78.8 373.89H83.4M78.8 335.16H83.4M78.8 296.42H83.4M78.8 257.69H83.4M78.8 218.95H83.4M78.8 180.22H83.4M78.8 141.48H83.4M78.8 102.75H83.4M83.4 606.3V610.9M143.7 606.3V610.9M204 606.3V610.9M264.29 606.3V610.9M324.59 606.3V610.9M384.89 606.3V610.9M445.18 606.3V610.9M505.48 606.3V610.9M565.78 606.3V610.9M626.08 606.3V610.9M686.38 606.3V610.9M746.67 606.3V610.9M806.97 606.3V610.9M867.27 606.3V610.9M927.56 606.3V610.9M987.86 606.3V610.9M1048.16 606.3V610.9M1108.46 606.3V610.9M1168.76 606.3V610.9M1229.05 606.3V610.9M1289.35 606.3V610.9M1349.65 606.3V610.9M1409.95 606.3V610.9M1470.24 606.3V610.9M1530.54 606.3V610.9M1590.84 606.3V610.9M1651.13 606.3V610.9M1711.43 606.3V610.9M1771.73 606.3V610.9M1832.03 606.3V610.9M1892.33 606.3V610.9M1952.62 606.3V610.9M2012.92 606.3V610.9M2073.22 606.3V610.9M2133.51 606.3V610.9M2193.81 606.3V610.9M2254.11 606.3V610.9M2314.41 606.3V610.9M2374.7 606.3V610.9M2435 606.3V610.9M2495.3 606.3V610.9" stroke="#000" stroke-width="1.25" fill="none"/>
<path d="M95.46 606.3V609.2M107.52 606.3V609.2M119.58 606.3V609.2M131.64 606.3V609.2M155.76 606.3V609.2M167.82 606.3V609.2M179.88 606.3V609.2M191.94 606.3V609.2M216.05 606.3V609.2M228.11 606.3V609.2M240.17 606.3V609.2M252.23 606.3V609.2M276.35 606.3V609.2M288.41 606.3V609.2M300.47 606.3V609.2M312.53 606.3V609.2M336.65 606.3V609.2M348.71 606.3V609.2M360.77 606.3V609.2M372.83 606.3V609.2M396.95 606.3V609.2M409.01 606.3V609.2M421.07 606.3V609.2M433.13 606.3V609.2M457.24 606.3V609.2M469.3 606.3V609.2M481.36 606.3V609.2M493.42 606.3V609.2M517.54 606.3V609.2M529.6 606.3V609.2M541.66 606.3V609.2M553.72 606.3V609.2M577.84 606.3V609.2M589.9 606.3V609.2M601.96 606.3V609.2M614.02 606.3V609.2M638.14 606.3V609.2M650.2 606.3V609.2M662.26 606.3V609.2M674.32 606.3V609.2M698.43 606.3V609.2M710.49 606.3V609.2M722.55 606.3V609.2M734.61 606.3V609.2M758.73 606.3V609.2M770.79 606.3V609.2M782.85 606.3V609.2M794.91 606.3V609.2M819.03 606.3V609.2M831.09 606.3V609.2M843.15 606.3V609.2M855.21 606.3V609.2M879.33 606.3V609.2M891.39 606.3V609.2M903.45 606.3V609.2M915.51 606.3V609.2M939.62 606.3V609.2M951.68 606.3V609.2M963.74 606.3V609.2M975.8 606.3V609.2M999.92 606.3V609.2M1011.98 606.3V609.2M1024.04 606.3V609.2M1036.1 606.3V609.2M1060.22 606.3V609.2M1072.28 606.3V609.2M1084.34 606.3V609.2M1096.4 606.3V609.2M1120.52 606.3V609.2M1132.58 606.3V609.2M1144.64 606.3V609.2M1156.7 606.3V609.2M1180.81 606.3V609.2M1192.87 606.3V609.2M1204.93 606.3V609.2M1216.99 606.3V609.2M1241.11 606.3V609.2M1253.17 606.3V609.2M1265.23 606.3V609.2M1277.29 606.3V609.2M1301.41 606.3V609.2M1313.47 606.3V609.2M1325.53 606.3V609.2M1337.59 606.3V609.2M1361.71 606.3V609.2M1373.77 606.3V609.2M1385.83 606.3V609.2M1397.89 606.3V609.2M1422 606.3V609.2M1434.06 606.3V609.2M1446.12 606.3V609.2M1458.18 606.3V609.2M1482.3 606.3V609.2M1494.36 606.3V609.2M1506.42 606.3V609.2M1518.48 606.3V609.2M1542.6 606.3V609.2M1554.66 606.3V609.2M1566.72 606.3V609.2M1578.78 606.3V609.2M1602.9 606.3V609.2M1614.96 606.3V609.2M1627.02 606.3V609.2M1639.08 606.3V609.2M1663.19 606.3V609.2M1675.25 606.3V609.2M1687.31 606.3V609.2M1699.37 606.3V609.2M1723.49 606.3V609.2M1735.55 606.3V609.2M1747.61 606.3V609.2M1759.67 606.3V609.2M1783.79 606.3V609.2M1795.85 606.3V609.2M1807.91 606.3V609.2M1819.97 606.3V609.2M1844.09 606.3V609.2M1856.15 606.3V609.2M1868.21 606.3V609.2M1880.27 606.3V609.2M1904.38 606.3V609.2M1916.44 606.3V609.2M1928.5 606.3V609.2M1940.56 606.3V609.2M1964.68 606.3V609.2M1976.74 606.3V609.2M1988.8 606.3V609.2M2000.86 606.3V609.2M2024.98 606.3V609.2M2037.04 606.3V609.2M2049.1 606.3V609.2M2061.16 606.3V609.2M2085.28 606.3V609.2M2097.34 606.3V609.2M2109.4 606.3V609.2M2121.46 606.3V609.2M2145.57 606.3V609.2M2157.63 606.3V609.2M2169.69 606.3V609.2M2181.75 606.3V609.2M2205.87 606.3V609.2M2217.93 606.3V609.2M2229.99 606.3V609.2M2242.05 606.3V609.2M2266.17 606.3V609.2M2278.23 606.3V609.2M2290.29 606.3V609.2M2302.35 606.3V609.2M2326.47 606.3V609.2M2338.53 606.3V609.2M2350.59 606.3V609.2M2362.65 606.3V609.2M2386.76 606.3V609.2M2398.82 606.3V609.2M2410.88 606.3V609.2M2422.94 606.3V609.2M2447.06 606.3V609.2M2459.12 606.3V609.2M2471.18 606.3V609.2M2483.24 606.3V609.2" stroke="#000" stroke-width="0.85" fill="none"/>
<g font-size="17.15" font-weight="bold" fill="#000" stroke="#000" stroke-width="0.35"><text x="74.2" y="612.2" text-anchor="end" textLength="42.3" lengthAdjust="spacingAndGlyphs">6715</text><text x="2504.4" y="612.2" textLength="42.3" lengthAdjust="spacingAndGlyphs">6715</text><text x="74.2" y="573.47" text-anchor="end" textLength="42.3" lengthAdjust="spacingAndGlyphs">6720</text><text x="2504.4" y="573.47" textLength="42.3" lengthAdjust="spacingAndGlyphs">6720</text><text x="74.2" y="534.73" text-anchor="end" textLength="42.3" lengthAdjust="spacingAndGlyphs">6725</text><text x="2504.4" y="534.73" textLength="42.3" lengthAdjust="spacingAndGlyphs">6725</text><text x="74.2" y="496" text-anchor="end" textLength="42.3" lengthAdjust="spacingAndGlyphs">6730</text><text x="2504.4" y="496" textLength="42.3" lengthAdjust="spacingAndGlyphs">6730</text><text x="74.2" y="457.26" text-anchor="end" textLength="42.3" lengthAdjust="spacingAndGlyphs">6735</text><text x="2504.4" y="457.26" textLength="42.3" lengthAdjust="spacingAndGlyphs">6735</text><text x="74.2" y="418.53" text-anchor="end" textLength="42.3" lengthAdjust="spacingAndGlyphs">6740</text><text x="2504.4" y="418.53" textLength="42.3" lengthAdjust="spacingAndGlyphs">6740</text><text x="74.2" y="379.79" text-anchor="end" textLength="42.3" lengthAdjust="spacingAndGlyphs">6745</text><text x="2504.4" y="379.79" textLength="42.3" lengthAdjust="spacingAndGlyphs">6745</text><text x="74.2" y="341.06" text-anchor="end" textLength="42.3" lengthAdjust="spacingAndGlyphs">6750</text><text x="2504.4" y="341.06" textLength="42.3" lengthAdjust="spacingAndGlyphs">6750</text><text x="74.2" y="302.32" text-anchor="end" textLength="42.3" lengthAdjust="spacingAndGlyphs">6755</text><text x="2504.4" y="302.32" textLength="42.3" lengthAdjust="spacingAndGlyphs">6755</text><text x="74.2" y="263.59" text-anchor="end" textLength="42.3" lengthAdjust="spacingAndGlyphs">6760</text><text x="2504.4" y="263.59" textLength="42.3" lengthAdjust="spacingAndGlyphs">6760</text><text x="74.2" y="224.85" text-anchor="end" textLength="42.3" lengthAdjust="spacingAndGlyphs">6765</text><text x="2504.4" y="224.85" textLength="42.3" lengthAdjust="spacingAndGlyphs">6765</text><text x="74.2" y="186.12" text-anchor="end" textLength="42.3" lengthAdjust="spacingAndGlyphs">6770</text><text x="2504.4" y="186.12" textLength="42.3" lengthAdjust="spacingAndGlyphs">6770</text><text x="74.2" y="147.38" text-anchor="end" textLength="42.3" lengthAdjust="spacingAndGlyphs">6775</text><text x="2504.4" y="147.38" textLength="42.3" lengthAdjust="spacingAndGlyphs">6775</text><text x="74.2" y="108.65" text-anchor="end" textLength="42.3" lengthAdjust="spacingAndGlyphs">6780</text><text x="2504.4" y="108.65" textLength="42.3" lengthAdjust="spacingAndGlyphs">6780</text></g>
<text x="83.86" y="93.9" font-size="21.2" font-weight="bold" font-style="normal" fill="#000" stroke="#000" stroke-width="0.35" textLength="40.35" lengthAdjust="spacingAndGlyphs">Call</text>
<text transform="translate(21.6 355.02) rotate(-90)" text-anchor="middle" font-size="13.7" font-weight="bold" stroke="#000" stroke-width="0.25" textLength="84" lengthAdjust="spacingAndGlyphs">Strike Price</text>
<path d="M143.7 1156V652.45M204 1156V652.45M264.29 1156V652.45M324.59 1156V652.45M384.89 1156V652.45M445.18 1156V652.45M505.48 1156V652.45M565.78 1156V652.45M626.08 1156V652.45M686.38 1156V652.45M746.67 1156V652.45M806.97 1156V652.45M867.27 1156V652.45M927.56 1156V652.45M987.86 1156V652.45M1048.16 1156V652.45M1108.46 1156V652.45M1168.76 1156V652.45M1229.05 1156V652.45M1289.35 1156V652.45M1349.65 1156V652.45M1409.95 1156V652.45M1470.24 1156V652.45M1530.54 1156V652.45M1590.84 1156V652.45M1651.13 1156V652.45M1711.43 1156V652.45M1771.73 1156V652.45M1832.03 1156V652.45M1892.33 1156V652.45M1952.62 1156V652.45M2012.92 1156V652.45M2073.22 1156V652.45M2133.51 1156V652.45M2193.81 1156V652.45M2254.11 1156V652.45M2314.41 1156V652.45M2374.7 1156V652.45M2435 1156V652.45M2495.3 1156V652.45" stroke="#b0b0b0" stroke-opacity="0.67" stroke-width="1.25" stroke-dasharray="4.6 2" fill="none"/>
<path d="M83.4 1117.27H2495.3M83.4 1078.53H2495.3M83.4 1039.8H2495.3M83.4 1001.06H2495.3M83.4 962.33H2495.3M83.4 923.59H2495.3M83.4 884.86H2495.3M83.4 846.12H2495.3M83.4 807.39H2495.3M83.4 768.65H2495.3M83.4 729.92H2495.3M83.4 691.18H2495.3" stroke="#b0b0b0" stroke-opacity="0.67" stroke-width="1.25" stroke-dasharray="1.25 2.06" fill="none"/>
<g clip-path="url(#clip_put)">
<g fill="#008000" fill-opacity="0.7"><path d="M157.45 689.93L156.2 692.43L158.7 692.43Z"/><path d="M169.5 689.43L167.75 692.93L171.25 692.93Z"/><path d="M205.68 687.98L202.48 694.38L208.88 694.38Z"/><path d="M265.98 690.08L264.88 692.28L267.08 692.28Z"/><path d="M278.04 689.88L276.74 692.48L279.34 692.48Z"/><path d="M314.22 687.28L310.32 695.08L318.12 695.08Z"/><path d="M326.28 687.33L322.43 695.03L330.13 695.03Z"/><path d="M338.34 688.63L335.79 693.73L340.89 693.73Z"/><path d="M350.4 686.48L345.7 695.88L355.1 695.88Z"/><path d="M362.46 685.88L357.16 696.48L367.76 696.48Z"/><path d="M374.52 687.53L370.87 694.83L378.17 694.83Z"/><path d="M386.58 688.83L384.23 693.53L388.93 693.53Z"/><path d="M398.64 689.43L396.89 692.93L400.39 692.93Z"/><path d="M410.69 687.03L406.54 695.33L414.84 695.33Z"/><path d="M422.75 687.88L419.45 694.48L426.05 694.48Z"/><path d="M434.81 688.18L431.81 694.18L437.81 694.18Z"/><path d="M446.87 689.03L444.72 693.33L449.02 693.33Z"/><path d="M458.93 687.03L454.78 695.33L463.08 695.33Z"/><path d="M470.99 685.03L464.84 697.33L477.14 697.33Z"/><path d="M483.05 687.88L479.75 694.48L486.35 694.48Z"/><path d="M495.11 686.48L490.41 695.88L499.81 695.88Z"/><path d="M507.17 685.23L501.22 697.13L513.12 697.13Z"/><path d="M519.23 685.68L513.73 696.68L524.73 696.68Z"/><path d="M531.29 686.48L526.59 695.88L535.99 695.88Z"/><path d="M157.45 728.67L156.2 731.17L158.7 731.17Z"/><path d="M169.5 727.37L166.95 732.47L172.05 732.47Z"/><path d="M205.68 725.67L201.43 734.17L209.93 734.17Z"/><path d="M265.98 728.67L264.73 731.17L267.23 731.17Z"/><path d="M278.04 728.17L276.29 731.67L279.79 731.67Z"/><path d="M314.22 724.82L309.12 735.02L319.32 735.02Z"/><path d="M326.28 725.02L321.38 734.82L331.18 734.82Z"/><path d="M338.34 726.52L334.94 733.32L341.74 733.32Z"/><path d="M350.4 724.42L344.9 735.42L355.9 735.42Z"/><path d="M362.46 723.57L356.11 736.27L368.81 736.27Z"/><path d="M374.52 725.67L370.27 734.17L378.77 734.17Z"/><path d="M386.58 727.17L383.83 732.67L389.33 732.67Z"/><path d="M398.64 727.77L396.49 732.07L400.79 732.07Z"/><path d="M410.69 725.02L405.79 734.82L415.59 734.82Z"/><path d="M422.75 725.87L418.7 733.97L426.8 733.97Z"/><path d="M434.81 726.27L431.16 733.57L438.46 733.57Z"/><path d="M446.87 727.37L444.32 732.47L449.42 732.47Z"/><path d="M458.93 725.02L454.03 734.82L463.83 734.82Z"/><path d="M470.99 722.72L463.79 737.12L478.19 737.12Z"/><path d="M483.05 725.77L478.9 734.07L487.2 734.07Z"/><path d="M495.11 724.42L489.61 735.42L500.61 735.42Z"/><path d="M507.17 723.12L500.37 736.72L513.97 736.72Z"/><path d="M519.23 723.57L512.88 736.27L525.58 736.27Z"/><path d="M531.29 724.62L525.99 735.22L536.59 735.22Z"/><path d="M856.9 729.17L856.15 730.67L857.65 730.67Z"/><path d="M157.45 767.65L156.45 769.65L158.45 769.65Z"/><path d="M169.5 766.7L167.55 770.6L171.45 770.6Z"/><path d="M205.68 765.25L202.28 772.05L209.08 772.05Z"/><path d="M265.98 767.65L264.98 769.65L266.98 769.65Z"/><path d="M278.04 767.4L276.79 769.9L279.29 769.9Z"/><path d="M314.22 764.8L310.37 772.5L318.07 772.5Z"/><path d="M326.28 765L322.63 772.3L329.93 772.3Z"/><path d="M338.34 766.1L335.79 771.2L340.89 771.2Z"/><path d="M350.4 764.2L345.95 773.1L354.85 773.1Z"/><path d="M362.46 763.55L357.36 773.75L367.56 773.75Z"/><path d="M374.52 765.25L371.12 772.05L377.92 772.05Z"/><path d="M386.58 766.5L384.43 770.8L388.73 770.8Z"/><path d="M398.64 766.7L396.69 770.6L400.59 770.6Z"/><path d="M410.69 764.6L406.64 772.7L414.74 772.7Z"/><path d="M422.75 765.25L419.35 772.05L426.15 772.05Z"/><path d="M434.81 765.45L431.61 771.85L438.01 771.85Z"/><path d="M446.87 766.3L444.52 771L449.22 771Z"/><path d="M458.93 764.6L454.88 772.7L462.98 772.7Z"/><path d="M470.99 762.5L464.84 774.8L477.14 774.8Z"/><path d="M483.05 765L479.4 772.3L486.7 772.3Z"/><path d="M495.11 763.95L490.41 773.35L499.81 773.35Z"/><path d="M507.17 762.9L501.42 774.4L512.92 774.4Z"/><path d="M519.23 763.15L513.73 774.15L524.73 774.15Z"/><path d="M531.29 763.75L526.39 773.55L536.19 773.55Z"/><path d="M856.9 766.5L854.75 770.8L859.05 770.8Z"/><path d="M157.45 806.26L156.32 808.51L158.57 808.51Z"/><path d="M169.5 805.44L167.55 809.34L171.45 809.34Z"/><path d="M265.98 805.99L264.58 808.79L267.38 808.79Z"/><path d="M278.04 805.71L276.37 809.06L279.72 809.06Z"/><path d="M314.22 802.69L309.52 812.09L318.92 812.09Z"/><path d="M326.28 802.96L321.85 811.81L330.7 811.81Z"/><path d="M338.34 804.34L335.29 810.44L341.39 810.44Z"/><path d="M350.4 802.49L345.5 812.29L355.3 812.29Z"/><path d="M362.46 801.64L356.71 813.14L368.21 813.14Z"/><path d="M374.52 803.49L370.62 811.29L378.42 811.29Z"/><path d="M386.58 804.59L383.78 810.19L389.38 810.19Z"/><path d="M398.64 804.84L396.09 809.94L401.19 809.94Z"/><path d="M410.69 802.69L405.99 812.09L415.39 812.09Z"/><path d="M422.75 803.49L418.85 811.29L426.65 811.29Z"/><path d="M434.81 803.49L430.91 811.29L438.71 811.29Z"/><path d="M446.87 804.54L444.02 810.24L449.72 810.24Z"/><path d="M458.93 802.49L454.03 812.29L463.83 812.29Z"/><path d="M470.99 800.39L463.99 814.39L477.99 814.39Z"/><path d="M483.05 802.84L478.5 811.94L487.6 811.94Z"/><path d="M495.11 801.64L489.36 813.14L500.86 813.14Z"/><path d="M507.17 800.79L500.57 813.99L513.77 813.99Z"/><path d="M519.23 801.04L512.88 813.74L525.58 813.74Z"/><path d="M531.29 801.64L525.54 813.14L537.04 813.14Z"/><path d="M856.9 804.39L853.9 810.39L859.9 810.39Z"/><path d="M157.45 845L156.32 847.25L158.57 847.25Z"/><path d="M169.5 844.17L167.55 848.07L171.45 848.07Z"/><path d="M265.98 844.72L264.58 847.52L267.38 847.52Z"/><path d="M278.04 844.45L276.37 847.8L279.72 847.8Z"/><path d="M314.22 841.42L309.52 850.82L318.92 850.82Z"/><path d="M326.28 841.7L321.85 850.55L330.7 850.55Z"/><path d="M338.34 843.07L335.29 849.17L341.39 849.17Z"/><path d="M350.4 841.72L346 850.52L354.8 850.52Z"/><path d="M362.46 840.87L357.21 851.37L367.71 851.37Z"/><path d="M374.52 842.27L370.67 849.97L378.37 849.97Z"/><path d="M386.58 843.32L383.78 848.92L389.38 848.92Z"/><path d="M398.64 843.62L396.14 848.62L401.14 848.62Z"/><path d="M410.69 841.72L406.29 850.52L415.09 850.52Z"/><path d="M422.75 842.42L419.05 849.82L426.45 849.82Z"/><path d="M434.81 842.42L431.11 849.82L438.51 849.82Z"/><path d="M446.87 842.92L443.67 849.32L450.07 849.32Z"/><path d="M458.93 841.67L454.48 850.57L463.38 850.57Z"/><path d="M470.99 839.97L464.84 852.27L477.14 852.27Z"/><path d="M483.05 841.97L478.9 850.27L487.2 850.27Z"/><path d="M495.11 841.12L490.11 851.12L500.11 851.12Z"/><path d="M507.17 840.17L501.22 852.07L513.12 852.07Z"/><path d="M519.23 840.27L513.38 851.97L525.08 851.97Z"/><path d="M531.29 841.12L526.29 851.12L536.29 851.12Z"/><path d="M832.78 844.17L830.83 848.07L834.73 848.07Z"/><path d="M844.84 844.37L843.09 847.87L846.59 847.87Z"/><path d="M856.9 842.07L852.85 850.17L860.95 850.17Z"/><path d="M157.45 883.73L156.32 885.98L158.57 885.98Z"/><path d="M169.5 882.36L167 887.36L172 887.36Z"/><path d="M265.98 882.63L263.76 887.08L268.21 887.08Z"/><path d="M278.04 882.63L275.82 887.08L280.27 887.08Z"/><path d="M314.22 878.51L307.87 891.21L320.57 891.21Z"/><path d="M326.28 878.51L319.93 891.21L332.63 891.21Z"/><path d="M338.34 880.16L333.64 889.56L343.04 889.56Z"/><path d="M350.4 878.71L344.25 891.01L356.55 891.01Z"/><path d="M362.46 877.66L355.26 892.06L369.66 892.06Z"/><path d="M374.52 879.56L369.22 890.16L379.82 890.16Z"/><path d="M386.58 880.81L382.53 888.91L390.63 888.91Z"/><path d="M398.64 881.21L394.99 888.51L402.29 888.51Z"/><path d="M410.69 878.71L404.54 891.01L416.84 891.01Z"/><path d="M422.75 879.56L417.45 890.16L428.05 890.16Z"/><path d="M434.81 879.56L429.51 890.16L440.11 890.16Z"/><path d="M446.87 880.41L442.42 889.31L451.32 889.31Z"/><path d="M458.93 878.26L452.33 891.46L465.53 891.46Z"/><path d="M470.99 876.36L462.49 893.36L479.49 893.36Z"/><path d="M483.05 878.71L476.9 891.01L489.2 891.01Z"/><path d="M495.11 877.86L488.11 891.86L502.11 891.86Z"/><path d="M507.17 876.81L499.12 892.91L515.22 892.91Z"/><path d="M519.23 876.81L511.18 892.91L527.28 892.91Z"/><path d="M531.29 877.46L523.89 892.26L538.69 892.26Z"/><path d="M736.3 882.11L733.55 887.61L739.05 887.61Z"/><path d="M748.36 883.61L747.11 886.11L749.61 886.11Z"/><path d="M832.78 880.81L828.73 888.91L836.83 888.91Z"/><path d="M844.84 881.01L840.99 888.71L848.69 888.71Z"/><path d="M856.9 878.71L850.75 891.01L863.05 891.01Z"/><path d="M157.45 922.47L156.32 924.72L158.57 924.72Z"/><path d="M169.5 921.64L167.55 925.54L171.45 925.54Z"/><path d="M265.98 921.92L264.31 925.27L267.66 925.27Z"/><path d="M278.04 921.92L276.37 925.27L279.72 925.27Z"/><path d="M314.22 917.79L308.42 929.39L320.02 929.39Z"/><path d="M326.28 918.34L321.03 928.84L331.53 928.84Z"/><path d="M338.34 919.44L334.19 927.74L342.49 927.74Z"/><path d="M350.4 918.09L344.9 929.09L355.9 929.09Z"/><path d="M362.46 917.24L356.11 929.94L368.81 929.94Z"/><path d="M374.52 918.89L369.82 928.29L379.22 928.29Z"/><path d="M386.58 920.09L383.08 927.09L390.08 927.09Z"/><path d="M398.64 920.39L395.44 926.79L401.84 926.79Z"/><path d="M410.69 918.29L405.39 928.89L415.99 928.89Z"/><path d="M422.75 918.89L418.05 928.29L427.45 928.29Z"/><path d="M434.81 918.89L430.11 928.29L439.51 928.29Z"/><path d="M446.87 919.44L442.72 927.74L451.02 927.74Z"/><path d="M458.93 918.09L453.43 929.09L464.43 929.09Z"/><path d="M470.99 916.39L463.79 930.79L478.19 930.79Z"/><path d="M483.05 918.29L477.75 928.89L488.35 928.89Z"/><path d="M495.11 917.09L488.61 930.09L501.61 930.09Z"/><path d="M507.17 916.39L499.97 930.79L514.37 930.79Z"/><path d="M519.23 916.39L512.03 930.79L526.43 930.79Z"/><path d="M531.29 916.99L524.69 930.19L537.89 930.19Z"/><path d="M736.3 920.19L732.9 926.99L739.7 926.99Z"/><path d="M748.36 921.44L746.21 925.74L750.51 925.74Z"/><path d="M832.78 919.54L828.73 927.64L836.83 927.64Z"/><path d="M844.84 919.84L841.09 927.34L848.59 927.34Z"/><path d="M856.9 918.09L851.4 929.09L862.4 929.09Z"/><path d="M157.45 961.2L156.32 963.45L158.57 963.45Z"/><path d="M169.5 960.38L167.55 964.28L171.45 964.28Z"/><path d="M193.62 958.45L189.75 966.2L197.5 966.2Z"/><path d="M265.98 960.38L264.03 964.28L267.93 964.28Z"/><path d="M278.04 960.38L276.09 964.28L279.99 964.28Z"/><path d="M302.16 961.2L301.03 963.45L303.28 963.45Z"/><path d="M314.22 955.98L307.87 968.68L320.57 968.68Z"/><path d="M326.28 956.53L320.48 968.13L332.08 968.13Z"/><path d="M338.34 957.63L333.64 967.03L343.04 967.03Z"/><path d="M350.4 956.38L344.45 968.28L356.35 968.28Z"/><path d="M362.46 955.53L355.66 969.13L369.26 969.13Z"/><path d="M374.52 957.23L369.42 967.43L379.62 967.43Z"/><path d="M386.58 958.28L382.53 966.38L390.63 966.38Z"/><path d="M398.64 958.38L394.69 966.28L402.59 966.28Z"/><path d="M410.69 955.98L404.34 968.68L417.04 968.68Z"/><path d="M422.75 956.58L417 968.08L428.5 968.08Z"/><path d="M434.81 956.38L428.86 968.28L440.76 968.28Z"/><path d="M446.87 957.03L441.57 967.63L452.17 967.63Z"/><path d="M458.93 955.53L452.13 969.13L465.73 969.13Z"/><path d="M470.99 953.43L462.09 971.23L479.89 971.23Z"/><path d="M483.05 955.53L476.25 969.13L489.85 969.13Z"/><path d="M495.11 954.48L487.26 970.18L502.96 970.18Z"/><path d="M507.17 953.63L498.47 971.03L515.87 971.03Z"/><path d="M519.23 953.43L510.33 971.23L528.13 971.23Z"/><path d="M531.29 954.08L523.04 970.58L539.54 970.58Z"/><path d="M736.3 958.08L732.05 966.58L740.55 966.58Z"/><path d="M748.36 958.68L744.71 965.98L752.01 965.98Z"/><path d="M832.78 957.23L827.68 967.43L837.88 967.43Z"/><path d="M844.84 957.43L839.94 967.23L849.74 967.23Z"/><path d="M856.9 955.53L850.1 969.13L863.7 969.13Z"/><path d="M157.45 1000.21L156.6 1001.91L158.3 1001.91Z"/><path d="M169.5 999.39L167.83 1002.74L171.18 1002.74Z"/><path d="M265.98 999.39L264.31 1002.74L267.66 1002.74Z"/><path d="M278.04 999.39L276.37 1002.74L279.72 1002.74Z"/><path d="M314.22 996.36L309.52 1005.76L318.92 1005.76Z"/><path d="M326.28 996.36L321.58 1005.76L330.98 1005.76Z"/><path d="M338.34 997.46L334.74 1004.66L341.94 1004.66Z"/><path d="M350.4 995.96L345.3 1006.16L355.5 1006.16Z"/><path d="M362.46 995.31L356.71 1006.81L368.21 1006.81Z"/><path d="M374.52 996.36L369.82 1005.76L379.22 1005.76Z"/><path d="M386.58 997.41L382.93 1004.71L390.23 1004.71Z"/><path d="M398.64 997.66L395.24 1004.46L402.04 1004.46Z"/><path d="M410.69 995.96L405.59 1006.16L415.79 1006.16Z"/><path d="M422.75 996.36L418.05 1005.76L427.45 1005.76Z"/><path d="M434.81 996.36L430.11 1005.76L439.51 1005.76Z"/><path d="M446.87 996.81L442.62 1005.31L451.12 1005.31Z"/><path d="M458.93 995.56L453.43 1006.56L464.43 1006.56Z"/><path d="M470.99 994.26L464.19 1007.86L477.79 1007.86Z"/><path d="M483.05 995.56L477.55 1006.56L488.55 1006.56Z"/><path d="M495.11 995.11L489.16 1007.01L501.06 1007.01Z"/><path d="M507.17 994.26L500.37 1007.86L513.97 1007.86Z"/><path d="M519.23 994.26L512.43 1007.86L526.03 1007.86Z"/><path d="M531.29 994.46L524.69 1007.66L537.89 1007.66Z"/><path d="M555.41 998.91L553.26 1003.21L557.56 1003.21Z"/><path d="M724.24 999.11L722.29 1003.01L726.19 1003.01Z"/><path d="M736.3 997.41L732.65 1004.71L739.95 1004.71Z"/><path d="M748.36 997.86L745.16 1004.26L751.56 1004.26Z"/><path d="M832.78 996.36L828.08 1005.76L837.48 1005.76Z"/><path d="M844.84 996.36L840.14 1005.76L849.54 1005.76Z"/><path d="M856.9 994.91L850.75 1007.21L863.05 1007.21Z"/><path d="M157.45 1038.67L156.32 1040.92L158.57 1040.92Z"/><path d="M169.5 1037.02L166.73 1042.57L172.28 1042.57Z"/><path d="M205.68 1034.82L200.71 1044.77L210.66 1044.77Z"/><path d="M265.98 1037.3L263.48 1042.3L268.48 1042.3Z"/><path d="M278.04 1037.3L275.54 1042.3L280.54 1042.3Z"/><path d="M302.16 1038.12L300.48 1041.47L303.83 1041.47Z"/><path d="M314.22 1033.45L307.87 1046.15L320.57 1046.15Z"/><path d="M326.28 1033.72L320.2 1045.87L332.35 1045.87Z"/><path d="M338.34 1034.82L333.36 1044.77L343.31 1044.77Z"/><path d="M350.4 1033.85L344.45 1045.75L356.35 1045.75Z"/><path d="M362.46 1033L355.66 1046.6L369.26 1046.6Z"/><path d="M374.52 1034.5L369.22 1045.1L379.82 1045.1Z"/><path d="M386.58 1035.55L382.33 1044.05L390.83 1044.05Z"/><path d="M398.64 1035.55L394.39 1044.05L402.89 1044.05Z"/><path d="M410.69 1033.85L404.74 1045.75L416.64 1045.75Z"/><path d="M422.75 1034.3L417.25 1045.3L428.25 1045.3Z"/><path d="M434.81 1034.05L429.06 1045.55L440.56 1045.55Z"/><path d="M446.87 1034.7L441.77 1044.9L451.97 1044.9Z"/><path d="M458.93 1033.5L452.63 1046.1L465.23 1046.1Z"/><path d="M470.99 1031.75L462.94 1047.85L479.04 1047.85Z"/><path d="M483.05 1033.65L476.9 1045.95L489.2 1045.95Z"/><path d="M495.11 1032.8L488.11 1046.8L502.11 1046.8Z"/><path d="M507.17 1031.95L499.32 1047.65L515.02 1047.65Z"/><path d="M519.23 1031.95L511.38 1047.65L527.08 1047.65Z"/><path d="M531.29 1032.15L523.64 1047.45L538.94 1047.45Z"/><path d="M555.41 1036.4L552.01 1043.2L558.81 1043.2Z"/><path d="M724.24 1036.8L721.24 1042.8L727.24 1042.8Z"/><path d="M736.3 1034.7L731.2 1044.9L741.4 1044.9Z"/><path d="M748.36 1035.55L744.11 1044.05L752.61 1044.05Z"/><path d="M820.72 1038.05L818.97 1041.55L822.47 1041.55Z"/><path d="M832.78 1034.3L827.28 1045.3L838.28 1045.3Z"/><path d="M844.84 1034.3L839.34 1045.3L850.34 1045.3Z"/><path d="M856.9 1032.6L849.7 1047L864.1 1047Z"/><path d="M157.45 1077.41L156.32 1079.66L158.57 1079.66Z"/><path d="M169.5 1076.86L167.83 1080.21L171.18 1080.21Z"/><path d="M265.98 1076.58L264.03 1080.48L267.93 1080.48Z"/><path d="M278.04 1076.58L276.09 1080.48L279.99 1080.48Z"/><path d="M302.16 1077.13L300.76 1079.93L303.56 1079.93Z"/><path d="M314.22 1072.73L308.42 1084.33L320.02 1084.33Z"/><path d="M326.28 1073.01L320.75 1084.06L331.8 1084.06Z"/><path d="M338.34 1074.11L333.91 1082.96L342.76 1082.96Z"/><path d="M350.4 1073.43L345.3 1083.63L355.5 1083.63Z"/><path d="M362.46 1072.38L356.31 1084.68L368.61 1084.68Z"/><path d="M374.52 1073.83L369.82 1083.23L379.22 1083.23Z"/><path d="M386.58 1074.68L382.73 1082.38L390.43 1082.38Z"/><path d="M398.64 1074.78L394.89 1082.28L402.39 1082.28Z"/><path d="M410.69 1073.28L405.44 1083.78L415.94 1083.78Z"/><path d="M422.75 1073.83L418.05 1083.23L427.45 1083.23Z"/><path d="M434.81 1073.83L430.11 1083.23L439.51 1083.23Z"/><path d="M446.87 1074.28L442.62 1082.78L451.12 1082.78Z"/><path d="M458.93 1073.03L453.43 1084.03L464.43 1084.03Z"/><path d="M470.99 1071.53L463.99 1085.53L477.99 1085.53Z"/><path d="M483.05 1073.23L477.75 1083.83L488.35 1083.83Z"/><path d="M495.11 1072.48L489.06 1084.58L501.16 1084.58Z"/><path d="M507.17 1071.93L500.57 1085.13L513.77 1085.13Z"/><path d="M519.23 1071.93L512.63 1085.13L525.83 1085.13Z"/><path d="M531.29 1072.18L524.94 1084.88L537.64 1084.88Z"/><path d="M543.35 1077.78L542.6 1079.28L544.1 1079.28Z"/><path d="M555.41 1075.13L552.01 1081.93L558.81 1081.93Z"/><path d="M724.24 1074.88L720.59 1082.18L727.89 1082.18Z"/><path d="M736.3 1073.43L731.2 1083.63L741.4 1083.63Z"/><path d="M748.36 1073.63L743.46 1083.43L753.26 1083.43Z"/><path d="M820.72 1075.33L817.52 1081.73L823.92 1081.73Z"/><path d="M832.78 1073.03L827.28 1084.03L838.28 1084.03Z"/><path d="M844.84 1073.03L839.34 1084.03L850.34 1084.03Z"/><path d="M856.9 1071.73L850.1 1085.33L863.7 1085.33Z"/><path d="M157.45 1116.14L156.32 1118.39L158.57 1118.39Z"/><path d="M169.5 1114.77L167 1119.77L172 1119.77Z"/><path d="M193.62 1113.12L189.47 1121.42L197.77 1121.42Z"/><path d="M205.68 1112.84L201.26 1121.69L210.11 1121.69Z"/><path d="M265.98 1115.32L264.03 1119.22L267.93 1119.22Z"/><path d="M278.04 1115.32L276.09 1119.22L279.99 1119.22Z"/><path d="M302.16 1115.87L300.76 1118.67L303.56 1118.67Z"/><path d="M314.22 1111.47L308.42 1123.07L320.02 1123.07Z"/><path d="M326.28 1111.74L320.75 1122.79L331.8 1122.79Z"/><path d="M338.34 1112.84L333.91 1121.69L342.76 1121.69Z"/><path d="M350.4 1112.17L345.3 1122.37L355.5 1122.37Z"/><path d="M362.46 1111.52L356.71 1123.02L368.21 1123.02Z"/><path d="M374.52 1112.57L369.82 1121.97L379.22 1121.97Z"/><path d="M386.58 1113.22L382.53 1121.32L390.63 1121.32Z"/><path d="M398.64 1113.42L394.79 1121.12L402.49 1121.12Z"/><path d="M410.69 1111.97L405.39 1122.57L415.99 1122.57Z"/><path d="M422.75 1112.37L417.85 1122.17L427.65 1122.17Z"/><path d="M434.81 1111.97L429.51 1122.57L440.11 1122.57Z"/><path d="M446.87 1112.82L442.42 1121.72L451.32 1121.72Z"/><path d="M458.93 1111.77L453.43 1122.77L464.43 1122.77Z"/><path d="M470.99 1110.47L464.19 1124.07L477.79 1124.07Z"/><path d="M483.05 1111.77L477.55 1122.77L488.55 1122.77Z"/><path d="M495.11 1110.92L488.76 1123.62L501.46 1123.62Z"/><path d="M507.17 1110.47L500.37 1124.07L513.97 1124.07Z"/><path d="M519.23 1110.47L512.43 1124.07L526.03 1124.07Z"/><path d="M531.29 1110.47L524.49 1124.07L538.09 1124.07Z"/><path d="M543.35 1114.47L540.55 1120.07L546.15 1120.07Z"/><path d="M555.41 1113.42L551.56 1121.12L559.26 1121.12Z"/><path d="M724.24 1113.87L720.84 1120.67L727.64 1120.67Z"/><path d="M736.3 1111.97L731 1122.57L741.6 1122.57Z"/><path d="M748.36 1112.37L743.46 1122.17L753.26 1122.17Z"/><path d="M820.72 1114.47L817.92 1120.07L823.52 1120.07Z"/><path d="M832.78 1111.77L827.28 1122.77L838.28 1122.77Z"/><path d="M844.84 1111.77L839.34 1122.77L850.34 1122.77Z"/><path d="M856.9 1110.47L850.1 1124.07L863.7 1124.07Z"/></g>
<g fill="#ff0000" fill-opacity="0.7"><path d="M181.56 693.13L179.61 689.23L183.51 689.23Z"/><path d="M193.62 694.18L190.62 688.18L196.62 688.18Z"/><path d="M217.74 694.58L214.34 687.78L221.14 687.78Z"/><path d="M229.8 694.58L226.4 687.78L233.2 687.78Z"/><path d="M241.86 695.23L237.81 687.13L245.91 687.13Z"/><path d="M253.92 694.83L250.27 687.53L257.57 687.53Z"/><path d="M290.1 693.73L287.55 688.63L292.65 688.63Z"/><path d="M302.16 693.13L300.21 689.23L304.11 689.23Z"/><path d="M543.35 697.53L537 684.83L549.7 684.83Z"/><path d="M555.41 696.28L550.31 686.08L560.51 686.08Z"/><path d="M567.47 698.83L559.82 683.53L575.12 683.53Z"/><path d="M579.53 698.83L571.88 683.53L587.18 683.53Z"/><path d="M591.59 699.18L583.59 683.18L599.59 683.18Z"/><path d="M603.65 699.33L595.5 683.03L611.8 683.03Z"/><path d="M615.71 698.38L608.51 683.98L622.91 683.98Z"/><path d="M627.77 697.78L621.17 684.58L634.37 684.58Z"/><path d="M639.83 699.23L631.78 683.13L647.88 683.13Z"/><path d="M651.88 699.68L643.38 682.68L660.38 682.68Z"/><path d="M663.94 699.78L655.34 682.58L672.54 682.58Z"/><path d="M676 700.08L667.1 682.28L684.9 682.28Z"/><path d="M688.06 698.58L680.66 683.78L695.46 683.78Z"/><path d="M700.12 699.68L691.62 682.68L708.62 682.68Z"/><path d="M712.18 697.53L705.83 684.83L718.53 684.83Z"/><path d="M724.24 696.48L718.94 685.88L729.54 685.88Z"/><path d="M736.3 695.43L732.05 686.93L740.55 686.93Z"/><path d="M748.36 695.63L743.91 686.73L752.81 686.73Z"/><path d="M760.42 697.98L753.62 684.38L767.22 684.38Z"/><path d="M772.48 700.08L763.58 682.28L781.38 682.28Z"/><path d="M784.54 698.83L776.89 683.53L792.19 683.53Z"/><path d="M796.6 697.98L789.8 684.38L803.4 684.38Z"/><path d="M808.66 697.98L801.86 684.38L815.46 684.38Z"/><path d="M820.72 696.08L815.82 686.28L825.62 686.28Z"/><path d="M832.78 694.58L829.38 687.78L836.18 687.78Z"/><path d="M844.84 694.83L841.19 687.53L848.49 687.53Z"/><path d="M856.9 693.13L854.95 689.23L858.85 689.23Z"/><path d="M868.96 697.53L862.61 684.83L875.31 684.83Z"/><path d="M881.02 699.03L873.17 683.33L888.87 683.33Z"/><path d="M893.07 699.43L884.82 682.93L901.32 682.93Z"/><path d="M905.13 699.68L896.63 682.68L913.63 682.68Z"/><path d="M181.56 732.67L178.81 727.17L184.31 727.17Z"/><path d="M193.62 733.97L189.57 725.87L197.67 725.87Z"/><path d="M217.74 734.62L213.04 725.22L222.44 725.22Z"/><path d="M229.8 734.17L225.55 725.67L234.05 725.67Z"/><path d="M241.86 735.02L236.76 724.82L246.96 724.82Z"/><path d="M253.92 734.62L249.22 725.22L258.62 725.22Z"/><path d="M290.1 733.02L287 726.82L293.2 726.82Z"/><path d="M302.16 732.47L299.61 727.37L304.71 727.37Z"/><path d="M543.35 736.72L536.55 723.12L550.15 723.12Z"/><path d="M555.41 735.42L549.91 724.42L560.91 724.42Z"/><path d="M567.47 738.17L559.22 721.67L575.72 721.67Z"/><path d="M579.53 738.42L571.03 721.42L588.03 721.42Z"/><path d="M591.59 738.67L582.84 721.17L600.34 721.17Z"/><path d="M603.65 738.82L594.75 721.02L612.55 721.02Z"/><path d="M615.71 737.32L608.31 722.52L623.11 722.52Z"/><path d="M627.77 736.92L620.77 722.92L634.77 722.92Z"/><path d="M639.83 738.17L631.58 721.67L648.08 721.67Z"/><path d="M651.88 739.67L642.13 720.17L661.63 720.17Z"/><path d="M663.94 739.47L654.39 720.37L673.49 720.37Z"/><path d="M676 739.87L666.05 719.97L685.95 719.97Z"/><path d="M688.06 737.97L680.01 721.87L696.11 721.87Z"/><path d="M700.12 739.47L690.57 720.37L709.67 720.37Z"/><path d="M712.18 736.72L705.38 723.12L718.98 723.12Z"/><path d="M724.24 735.42L718.74 724.42L729.74 724.42Z"/><path d="M736.3 733.97L732.25 725.87L740.35 725.87Z"/><path d="M748.36 734.17L744.11 725.67L752.61 725.67Z"/><path d="M760.42 737.57L752.77 722.27L768.07 722.27Z"/><path d="M772.48 740.07L762.33 719.77L782.63 719.77Z"/><path d="M784.54 738.42L776.04 721.42L793.04 721.42Z"/><path d="M796.6 737.57L788.95 722.27L804.25 722.27Z"/><path d="M808.66 737.57L801.01 722.27L816.31 722.27Z"/><path d="M820.72 735.42L815.22 724.42L826.22 724.42Z"/><path d="M832.78 733.32L829.38 726.52L836.18 726.52Z"/><path d="M844.84 733.77L840.99 726.07L848.69 726.07Z"/><path d="M868.96 737.32L861.56 722.52L876.36 722.52Z"/><path d="M881.02 738.82L872.12 721.02L889.92 721.02Z"/><path d="M893.07 739.22L883.77 720.62L902.37 720.62Z"/><path d="M905.13 739.67L895.38 720.17L914.88 720.17Z"/><path d="M181.56 770.8L179.41 766.5L183.71 766.5Z"/><path d="M193.62 771.85L190.42 765.45L196.82 765.45Z"/><path d="M217.74 772.3L214.09 765L221.39 765Z"/><path d="M229.8 771.85L226.6 765.45L233 765.45Z"/><path d="M241.86 772.7L237.81 764.6L245.91 764.6Z"/><path d="M253.92 772.3L250.27 765L257.57 765Z"/><path d="M290.1 771.2L287.55 766.1L292.65 766.1Z"/><path d="M302.16 770.4L300.41 766.9L303.91 766.9Z"/><path d="M543.35 774.6L537.4 762.7L549.3 762.7Z"/><path d="M555.41 773.1L550.96 764.2L559.86 764.2Z"/><path d="M567.47 775.85L560.27 761.45L574.67 761.45Z"/><path d="M579.53 775.85L572.33 761.45L586.73 761.45Z"/><path d="M591.59 776.05L584.19 761.25L598.99 761.25Z"/><path d="M603.65 776.05L596.25 761.25L611.05 761.25Z"/><path d="M615.71 775L609.36 762.3L622.06 762.3Z"/><path d="M627.77 774.6L621.82 762.7L633.72 762.7Z"/><path d="M639.83 775.85L632.63 761.45L647.03 761.45Z"/><path d="M651.88 777.15L643.38 760.15L660.38 760.15Z"/><path d="M663.94 777.15L655.44 760.15L672.44 760.15Z"/><path d="M676 777.15L667.5 760.15L684.5 760.15Z"/><path d="M688.06 775.25L681.46 762.05L694.66 762.05Z"/><path d="M700.12 776.7L692.07 760.6L708.17 760.6Z"/><path d="M712.18 773.95L706.88 763.35L717.48 763.35Z"/><path d="M724.24 772.9L719.99 764.4L728.49 764.4Z"/><path d="M736.3 771.4L733.55 765.9L739.05 765.9Z"/><path d="M748.36 772.05L744.96 765.25L751.76 765.25Z"/><path d="M760.42 775L754.07 762.3L766.77 762.3Z"/><path d="M772.48 777.55L763.58 759.75L781.38 759.75Z"/><path d="M784.54 776.05L777.14 761.25L791.94 761.25Z"/><path d="M796.6 775.45L789.8 761.85L803.4 761.85Z"/><path d="M808.66 775.25L802.06 762.05L815.26 762.05Z"/><path d="M820.72 773.1L816.27 764.2L825.17 764.2Z"/><path d="M832.78 771L830.43 766.3L835.13 766.3Z"/><path d="M844.84 771.2L842.29 766.1L847.39 766.1Z"/><path d="M868.96 775L862.61 762.3L875.31 762.3Z"/><path d="M881.02 776.3L873.37 761L888.67 761Z"/><path d="M893.07 776.7L885.02 760.6L901.12 760.6Z"/><path d="M905.13 777.15L896.63 760.15L913.63 760.15Z"/><path d="M181.56 809.61L179.34 805.16L183.79 805.16Z"/><path d="M193.62 810.71L190.3 804.06L196.95 804.06Z"/><path d="M205.68 810.99L202.08 803.79L209.28 803.79Z"/><path d="M217.74 811.26L213.87 803.51L221.62 803.51Z"/><path d="M229.8 810.99L226.2 803.79L233.4 803.79Z"/><path d="M241.86 811.81L237.44 802.96L246.29 802.96Z"/><path d="M253.92 811.26L250.05 803.51L257.8 803.51Z"/><path d="M290.1 810.16L287.32 804.61L292.87 804.61Z"/><path d="M302.16 809.34L300.21 805.44L304.11 805.44Z"/><path d="M543.35 813.34L537.4 801.44L549.3 801.44Z"/><path d="M555.41 811.84L550.96 802.94L559.86 802.94Z"/><path d="M567.47 815.04L559.82 799.74L575.12 799.74Z"/><path d="M579.53 815.44L571.48 799.34L587.58 799.34Z"/><path d="M591.59 815.89L583.09 798.89L600.09 798.89Z"/><path d="M603.65 815.89L595.15 798.89L612.15 798.89Z"/><path d="M615.71 814.59L608.51 800.19L622.91 800.19Z"/><path d="M627.77 813.74L621.42 801.04L634.12 801.04Z"/><path d="M639.83 815.44L631.78 799.34L647.88 799.34Z"/><path d="M651.88 816.94L642.33 797.84L661.43 797.84Z"/><path d="M663.94 816.94L654.39 797.84L673.49 797.84Z"/><path d="M676 817.34L666.05 797.44L685.95 797.44Z"/><path d="M688.06 815.44L680.01 799.34L696.11 799.34Z"/><path d="M700.12 816.94L690.57 797.84L709.67 797.84Z"/><path d="M712.18 813.34L706.23 801.44L718.13 801.44Z"/><path d="M724.24 811.64L719.99 803.14L728.49 803.14Z"/><path d="M736.3 809.54L734.15 805.24L738.45 805.24Z"/><path d="M748.36 808.39L747.36 806.39L749.36 806.39Z"/><path d="M760.42 814.59L753.22 800.19L767.62 800.19Z"/><path d="M772.48 817.79L762.08 796.99L782.88 796.99Z"/><path d="M784.54 815.89L776.04 798.89L793.04 798.89Z"/><path d="M796.6 814.79L789.2 799.99L804 799.99Z"/><path d="M808.66 814.79L801.26 799.99L816.06 799.99Z"/><path d="M820.72 812.29L815.82 802.49L825.62 802.49Z"/><path d="M832.78 808.39L831.78 806.39L833.78 806.39Z"/><path d="M844.84 808.89L843.34 805.89L846.34 805.89Z"/><path d="M868.96 814.39L861.96 800.39L875.96 800.39Z"/><path d="M881.02 816.69L871.72 798.09L890.32 798.09Z"/><path d="M893.07 817.14L883.32 797.64L902.82 797.64Z"/><path d="M905.13 817.54L894.98 797.24L915.28 797.24Z"/><path d="M181.56 848.07L179.61 844.17L183.51 844.17Z"/><path d="M193.62 849.45L190.3 842.8L196.95 842.8Z"/><path d="M205.68 849.72L202.08 842.52L209.28 842.52Z"/><path d="M217.74 850L213.87 842.25L221.62 842.25Z"/><path d="M229.8 849.72L226.2 842.52L233.4 842.52Z"/><path d="M241.86 850.82L237.16 841.42L246.56 841.42Z"/><path d="M253.92 850L250.05 842.25L257.8 842.25Z"/><path d="M290.1 848.62L287.6 843.62L292.6 843.62Z"/><path d="M302.16 847.52L300.76 844.72L303.56 844.72Z"/><path d="M543.35 850.82L538.65 841.42L548.05 841.42Z"/><path d="M555.41 849.52L552.01 842.72L558.81 842.72Z"/><path d="M567.47 852.47L561.12 839.77L573.82 839.77Z"/><path d="M579.53 853.32L572.33 838.92L586.73 838.92Z"/><path d="M591.59 853.32L584.39 838.92L598.79 838.92Z"/><path d="M603.65 853.32L596.45 838.92L610.85 838.92Z"/><path d="M615.71 852.07L609.76 840.17L621.66 840.17Z"/><path d="M627.77 851.42L622.47 840.82L633.07 840.82Z"/><path d="M639.83 852.72L633.23 839.52L646.43 839.52Z"/><path d="M651.88 853.62L644.38 838.62L659.38 838.62Z"/><path d="M663.94 854.17L655.89 838.07L671.99 838.07Z"/><path d="M676 854.17L667.95 838.07L684.05 838.07Z"/><path d="M688.06 852.27L681.91 839.97L694.21 839.97Z"/><path d="M700.12 853.77L692.47 838.47L707.77 838.47Z"/><path d="M712.18 850.82L707.48 841.42L716.88 841.42Z"/><path d="M724.24 849.12L721.24 843.12L727.24 843.12Z"/><path d="M736.3 847.12L735.3 845.12L737.3 845.12Z"/><path d="M748.36 847.62L746.86 844.62L749.86 844.62Z"/><path d="M760.42 851.62L754.92 840.62L765.92 840.62Z"/><path d="M772.48 855.22L763.38 837.02L781.58 837.02Z"/><path d="M784.54 853.52L777.14 838.72L791.94 838.72Z"/><path d="M796.6 852.27L790.45 839.97L802.75 839.97Z"/><path d="M808.66 852.27L802.51 839.97L814.81 839.97Z"/><path d="M820.72 849.77L817.07 842.47L824.37 842.47Z"/><path d="M868.96 851.42L863.66 840.82L874.26 840.82Z"/><path d="M881.02 853.97L873.17 838.27L888.87 838.27Z"/><path d="M893.07 854.17L885.02 838.07L901.12 838.07Z"/><path d="M905.13 854.82L896.43 837.42L913.83 837.42Z"/><path d="M181.56 887.63L178.79 882.08L184.34 882.08Z"/><path d="M193.62 889.56L188.92 880.16L198.32 880.16Z"/><path d="M205.68 890.11L200.43 879.61L210.93 879.61Z"/><path d="M217.74 890.38L212.22 879.33L223.27 879.33Z"/><path d="M229.8 890.11L224.55 879.61L235.05 879.61Z"/><path d="M241.86 891.21L235.51 878.51L248.21 878.51Z"/><path d="M253.92 890.38L248.4 879.33L259.45 879.33Z"/><path d="M290.1 888.18L286.77 881.53L293.42 881.53Z"/><path d="M302.16 886.26L300.76 883.46L303.56 883.46Z"/><path d="M543.35 890.61L537.6 879.11L549.1 879.11Z"/><path d="M555.41 888.91L551.36 880.81L559.46 880.81Z"/><path d="M567.47 893.11L559.22 876.61L575.72 876.61Z"/><path d="M579.53 894.41L569.98 875.31L589.08 875.31Z"/><path d="M591.59 894.61L581.84 875.11L601.34 875.11Z"/><path d="M603.65 894.61L593.9 875.11L613.4 875.11Z"/><path d="M615.71 893.11L607.46 876.61L623.96 876.61Z"/><path d="M627.77 892.26L620.37 877.46L635.17 877.46Z"/><path d="M639.83 893.76L630.93 875.96L648.73 875.96Z"/><path d="M651.88 895.11L641.63 874.61L662.13 874.61Z"/><path d="M663.94 895.11L653.69 874.61L674.19 874.61Z"/><path d="M676 895.11L665.75 874.61L686.25 874.61Z"/><path d="M688.06 892.26L680.66 877.46L695.46 877.46Z"/><path d="M700.12 894.61L690.37 875.11L709.87 875.11Z"/><path d="M712.18 890.81L706.23 878.91L718.13 878.91Z"/><path d="M724.24 888.51L720.59 881.21L727.89 881.21Z"/><path d="M760.42 892.51L752.77 877.21L768.07 877.21Z"/><path d="M772.48 897.11L760.23 872.61L784.73 872.61Z"/><path d="M784.54 895.11L774.29 874.61L794.79 874.61Z"/><path d="M796.6 893.11L788.35 876.61L804.85 876.61Z"/><path d="M808.66 893.36L800.16 876.36L817.16 876.36Z"/><path d="M820.72 889.56L816.02 880.16L825.42 880.16Z"/><path d="M868.96 892.71L861.11 877.01L876.81 877.01Z"/><path d="M881.02 896.06L869.82 873.66L892.22 873.66Z"/><path d="M893.07 896.91L881.02 872.81L905.12 872.81Z"/><path d="M905.13 897.11L892.88 872.61L917.38 872.61Z"/><path d="M181.56 925.54L179.61 921.64L183.51 921.64Z"/><path d="M193.62 927.47L189.75 919.72L197.5 919.72Z"/><path d="M205.68 927.47L201.81 919.72L209.56 919.72Z"/><path d="M217.74 928.29L213.04 918.89L222.44 918.89Z"/><path d="M229.8 927.74L225.65 919.44L233.95 919.44Z"/><path d="M241.86 928.84L236.61 918.34L247.11 918.34Z"/><path d="M253.92 928.29L249.22 918.89L258.62 918.89Z"/><path d="M290.1 925.82L287.87 921.37L292.32 921.37Z"/><path d="M302.16 924.72L301.03 922.47L303.28 922.47Z"/><path d="M543.35 928.29L538.65 918.89L548.05 918.89Z"/><path d="M555.41 925.94L553.06 921.24L557.76 921.24Z"/><path d="M567.47 930.59L560.47 916.59L574.47 916.59Z"/><path d="M579.53 932.09L571.03 915.09L588.03 915.09Z"/><path d="M591.59 932.29L582.89 914.89L600.29 914.89Z"/><path d="M603.65 932.49L594.75 914.69L612.55 914.69Z"/><path d="M615.71 930.59L608.71 916.59L622.71 916.59Z"/><path d="M627.77 929.74L621.62 917.44L633.92 917.44Z"/><path d="M639.83 931.44L631.98 915.74L647.68 915.74Z"/><path d="M651.88 933.34L642.13 913.84L661.63 913.84Z"/><path d="M663.94 933.34L654.19 913.84L673.69 913.84Z"/><path d="M676 933.34L666.25 913.84L685.75 913.84Z"/><path d="M688.06 930.99L680.66 916.19L695.46 916.19Z"/><path d="M700.12 932.89L690.82 914.29L709.42 914.29Z"/><path d="M712.18 928.49L707.28 918.69L717.08 918.69Z"/><path d="M724.24 925.74L722.09 921.44L726.39 921.44Z"/><path d="M760.42 929.34L754.67 917.84L766.17 917.84Z"/><path d="M772.48 933.54L762.53 913.64L782.43 913.64Z"/><path d="M784.54 931.84L776.29 915.34L792.79 915.34Z"/><path d="M796.6 930.59L789.6 916.59L803.6 916.59Z"/><path d="M808.66 930.39L801.86 916.79L815.46 916.79Z"/><path d="M820.72 926.39L817.92 920.79L823.52 920.79Z"/><path d="M868.96 929.34L863.21 917.84L874.71 917.84Z"/><path d="M881.02 932.29L872.32 914.89L889.72 914.89Z"/><path d="M893.07 932.34L884.32 914.84L901.82 914.84Z"/><path d="M905.13 932.34L896.38 914.84L913.88 914.84Z"/><path d="M181.56 964L179.89 960.65L183.24 960.65Z"/><path d="M205.68 966.2L201.81 958.45L209.56 958.45Z"/><path d="M217.74 966.75L213.32 957.9L222.17 957.9Z"/><path d="M229.8 966.75L225.38 957.9L234.23 957.9Z"/><path d="M241.86 967.58L236.61 957.08L247.11 957.08Z"/><path d="M253.92 967.03L249.22 957.63L258.62 957.63Z"/><path d="M290.1 964.83L287.6 959.83L292.6 959.83Z"/><path d="M543.35 967.23L538.45 957.43L548.25 957.43Z"/><path d="M555.41 963.83L553.91 960.83L556.91 960.83Z"/><path d="M567.47 970.18L559.62 954.48L575.32 954.48Z"/><path d="M579.53 972.73L569.13 951.93L589.93 951.93Z"/><path d="M591.59 972.73L581.19 951.93L601.99 951.93Z"/><path d="M603.65 972.73L593.25 951.93L614.05 951.93Z"/><path d="M615.71 970.38L607.66 954.28L623.76 954.28Z"/><path d="M627.77 969.53L620.57 955.13L634.97 955.13Z"/><path d="M639.83 971.43L630.73 953.23L648.93 953.23Z"/><path d="M651.88 973.53L640.68 951.13L663.08 951.13Z"/><path d="M663.94 973.53L652.74 951.13L675.14 951.13Z"/><path d="M676 973.78L664.55 950.88L687.45 950.88Z"/><path d="M688.06 970.83L679.56 953.83L696.56 953.83Z"/><path d="M700.12 973.13L689.32 951.53L710.92 951.53Z"/><path d="M712.18 967.83L706.68 956.83L717.68 956.83Z"/><path d="M724.24 964.28L722.29 960.38L726.19 960.38Z"/><path d="M760.42 968.93L753.82 955.73L767.02 955.73Z"/><path d="M772.48 973.78L761.03 950.88L783.93 950.88Z"/><path d="M784.54 971.43L775.44 953.23L793.64 953.23Z"/><path d="M796.6 970.18L788.75 954.48L804.45 954.48Z"/><path d="M808.66 969.73L801.26 954.93L816.06 954.93Z"/><path d="M820.72 964.28L818.77 960.38L822.67 960.38Z"/><path d="M868.96 968.48L862.81 956.18L875.11 956.18Z"/><path d="M881.02 971.63L871.72 953.03L890.32 953.03Z"/><path d="M893.07 972.08L883.32 952.58L902.82 952.58Z"/><path d="M905.13 973.13L894.33 951.53L915.93 951.53Z"/><path d="M181.56 1002.74L179.89 999.39L183.24 999.39Z"/><path d="M193.62 1004.39L190.3 997.74L196.95 997.74Z"/><path d="M205.68 1004.66L202.08 997.46L209.28 997.46Z"/><path d="M217.74 1004.94L213.87 997.19L221.62 997.19Z"/><path d="M229.8 1004.94L225.93 997.19L233.68 997.19Z"/><path d="M241.86 1005.49L237.44 996.64L246.29 996.64Z"/><path d="M253.92 1004.94L250.05 997.19L257.8 997.19Z"/><path d="M290.1 1003.56L287.6 998.56L292.6 998.56Z"/><path d="M543.35 1004.06L540.35 998.06L546.35 998.06Z"/><path d="M567.47 1006.56L561.97 995.56L572.97 995.56Z"/><path d="M579.53 1008.71L571.88 993.41L587.18 993.41Z"/><path d="M591.59 1008.91L583.74 993.21L599.44 993.21Z"/><path d="M603.65 1008.91L595.8 993.21L611.5 993.21Z"/><path d="M615.71 1007.21L609.56 994.91L621.86 994.91Z"/><path d="M627.77 1006.81L622.02 995.31L633.52 995.31Z"/><path d="M639.83 1008.46L632.43 993.66L647.23 993.66Z"/><path d="M651.88 1009.76L643.18 992.36L660.58 992.36Z"/><path d="M663.94 1009.76L655.24 992.36L672.64 992.36Z"/><path d="M676 1009.96L667.1 992.16L684.9 992.16Z"/><path d="M688.06 1007.66L681.46 994.46L694.66 994.46Z"/><path d="M700.12 1009.31L691.87 992.81L708.37 992.81Z"/><path d="M712.18 1005.11L708.13 997.01L716.23 997.01Z"/><path d="M760.42 1005.96L755.52 996.16L765.32 996.16Z"/><path d="M772.48 1010.16L763.38 991.96L781.58 991.96Z"/><path d="M784.54 1008.46L777.14 993.66L791.94 993.66Z"/><path d="M796.6 1007.21L790.45 994.91L802.75 994.91Z"/><path d="M808.66 1006.56L803.16 995.56L814.16 995.56Z"/><path d="M820.72 1001.81L819.97 1000.31L821.47 1000.31Z"/><path d="M868.96 1005.76L864.26 996.36L873.66 996.36Z"/><path d="M881.02 1008.46L873.62 993.66L888.42 993.66Z"/><path d="M893.07 1009.11L885.02 993.01L901.12 993.01Z"/><path d="M905.13 1009.56L896.63 992.56L913.63 992.56Z"/><path d="M181.56 1042.3L179.06 1037.3L184.06 1037.3Z"/><path d="M193.62 1044.5L188.92 1035.1L198.32 1035.1Z"/><path d="M217.74 1045.05L212.49 1034.55L222.99 1034.55Z"/><path d="M229.8 1045.05L224.55 1034.55L235.05 1034.55Z"/><path d="M241.86 1045.87L235.79 1033.72L247.94 1033.72Z"/><path d="M253.92 1044.77L248.95 1034.82L258.9 1034.82Z"/><path d="M290.1 1042.02L287.87 1037.57L292.32 1037.57Z"/><path d="M543.35 1040.8L542.35 1038.8L544.35 1038.8Z"/><path d="M567.47 1044.7L562.57 1034.9L572.37 1034.9Z"/><path d="M579.53 1047.45L571.88 1032.15L587.18 1032.15Z"/><path d="M591.59 1048.7L582.69 1030.9L600.49 1030.9Z"/><path d="M603.65 1049L594.45 1030.6L612.85 1030.6Z"/><path d="M615.71 1046.8L608.71 1032.8L622.71 1032.8Z"/><path d="M627.77 1046.15L621.42 1033.45L634.12 1033.45Z"/><path d="M639.83 1048.35L631.28 1031.25L648.38 1031.25Z"/><path d="M651.88 1049.95L641.73 1029.65L662.03 1029.65Z"/><path d="M663.94 1049.95L653.79 1029.65L674.09 1029.65Z"/><path d="M676 1050.2L665.6 1029.4L686.4 1029.4Z"/><path d="M688.06 1047.65L680.21 1031.95L695.91 1031.95Z"/><path d="M700.12 1049.45L690.47 1030.15L709.77 1030.15Z"/><path d="M712.18 1043.85L708.13 1035.75L716.23 1035.75Z"/><path d="M760.42 1045.1L755.12 1034.5L765.72 1034.5Z"/><path d="M772.48 1050.4L761.88 1029.2L783.08 1029.2Z"/><path d="M784.54 1048.5L775.84 1031.1L793.24 1031.1Z"/><path d="M796.6 1046.4L790 1033.2L803.2 1033.2Z"/><path d="M808.66 1045.95L802.51 1033.65L814.81 1033.65Z"/><path d="M868.96 1044.7L864.06 1034.9L873.86 1034.9Z"/><path d="M881.02 1047.65L873.17 1031.95L888.87 1031.95Z"/><path d="M893.07 1048.5L884.37 1031.1L901.77 1031.1Z"/><path d="M905.13 1049.35L895.58 1030.25L914.68 1030.25Z"/><path d="M181.56 1080.21L179.89 1076.86L183.24 1076.86Z"/><path d="M193.62 1082.41L189.75 1074.66L197.5 1074.66Z"/><path d="M205.68 1082.41L201.81 1074.66L209.56 1074.66Z"/><path d="M217.74 1083.23L213.04 1073.83L222.44 1073.83Z"/><path d="M229.8 1082.96L225.38 1074.11L234.23 1074.11Z"/><path d="M241.86 1083.78L236.61 1073.28L247.11 1073.28Z"/><path d="M253.92 1083.23L249.22 1073.83L258.62 1073.83Z"/><path d="M290.1 1081.03L287.6 1076.03L292.6 1076.03Z"/><path d="M567.47 1082.98L563.02 1074.08L571.92 1074.08Z"/><path d="M579.53 1085.53L572.53 1071.53L586.53 1071.53Z"/><path d="M591.59 1087.03L583.09 1070.03L600.09 1070.03Z"/><path d="M603.65 1087.03L595.15 1070.03L612.15 1070.03Z"/><path d="M615.71 1084.88L609.36 1072.18L622.06 1072.18Z"/><path d="M627.77 1084.48L621.82 1072.58L633.72 1072.58Z"/><path d="M639.83 1086.38L631.98 1070.68L647.68 1070.68Z"/><path d="M651.88 1087.83L642.58 1069.23L661.18 1069.23Z"/><path d="M663.94 1087.83L654.64 1069.23L673.24 1069.23Z"/><path d="M676 1087.83L666.7 1069.23L685.3 1069.23Z"/><path d="M688.06 1085.33L681.26 1071.73L694.86 1071.73Z"/><path d="M700.12 1087.43L691.22 1069.63L709.02 1069.63Z"/><path d="M712.18 1081.93L708.78 1075.13L715.58 1075.13Z"/><path d="M760.42 1082.58L756.37 1074.48L764.47 1074.48Z"/><path d="M772.48 1088.08L762.93 1068.98L782.03 1068.98Z"/><path d="M784.54 1086.38L776.69 1070.68L792.39 1070.68Z"/><path d="M796.6 1084.28L790.85 1072.78L802.35 1072.78Z"/><path d="M808.66 1084.28L802.91 1072.78L814.41 1072.78Z"/><path d="M868.96 1082.38L865.11 1074.68L872.81 1074.68Z"/><path d="M881.02 1085.53L874.02 1071.53L888.02 1071.53Z"/><path d="M893.07 1086.38L885.22 1070.68L900.92 1070.68Z"/><path d="M905.13 1086.78L896.88 1070.28L913.38 1070.28Z"/><path d="M181.56 1118.94L179.89 1115.59L183.24 1115.59Z"/><path d="M217.74 1121.97L213.04 1112.57L222.44 1112.57Z"/><path d="M229.8 1121.69L225.38 1112.84L234.23 1112.84Z"/><path d="M241.86 1122.79L236.34 1111.74L247.39 1111.74Z"/><path d="M253.92 1121.97L249.22 1112.57L258.62 1112.57Z"/><path d="M290.1 1119.22L288.15 1115.32L292.05 1115.32Z"/><path d="M567.47 1120.67L564.07 1113.87L570.87 1113.87Z"/><path d="M579.53 1123.22L573.58 1111.32L585.48 1111.32Z"/><path d="M591.59 1124.92L583.94 1109.62L599.24 1109.62Z"/><path d="M603.65 1124.92L596 1109.62L611.3 1109.62Z"/><path d="M615.71 1123.42L609.56 1111.12L621.86 1111.12Z"/><path d="M627.77 1122.77L622.27 1111.77L633.27 1111.77Z"/><path d="M639.83 1124.47L632.63 1110.07L647.03 1110.07Z"/><path d="M651.88 1126.17L642.98 1108.37L660.78 1108.37Z"/><path d="M663.94 1126.17L655.04 1108.37L672.84 1108.37Z"/><path d="M676 1126.37L666.9 1108.17L685.1 1108.17Z"/><path d="M688.06 1124.07L681.26 1110.47L694.86 1110.47Z"/><path d="M700.12 1125.52L691.87 1109.02L708.37 1109.02Z"/><path d="M712.18 1120.27L709.18 1114.27L715.18 1114.27Z"/><path d="M760.42 1120.92L756.77 1113.62L764.07 1113.62Z"/><path d="M772.48 1126.37L763.38 1108.17L781.58 1108.17Z"/><path d="M784.54 1124.67L777.14 1109.87L791.94 1109.87Z"/><path d="M796.6 1122.77L791.1 1111.77L802.1 1111.77Z"/><path d="M808.66 1122.37L803.56 1112.17L813.76 1112.17Z"/><path d="M868.96 1120.92L865.31 1113.62L872.61 1113.62Z"/><path d="M881.02 1123.87L874.42 1110.67L887.62 1110.67Z"/><path d="M893.07 1124.67L885.67 1109.87L900.47 1109.87Z"/><path d="M905.13 1124.67L897.73 1109.87L912.53 1109.87Z"/></g>
<polyline points="555.41,621.8 567.47,667.1 579.53,696.6 591.59,744.8 603.65,786 615.71,761.4 627.77,736.9 639.83,774.2 651.88,846 663.94,870.1 676,876.2 688.06,844.5 700.12,877.3 712.18,817.3 724.24,803.8 736.3,790.8 748.36,809.3 760.42,854.3 772.48,899.3 784.54,894.9 796.6,877.8 808.66,861.1 820.72,835.8 832.78,810.6 844.84,814.6 856.9,798.7 868.96,849.8 881.02,900.9 893.07,913.5 905.13,920.2" fill="none" stroke="#0000ff" stroke-width="3.1" stroke-dasharray="11.5 5" stroke-linejoin="round"/>
<circle cx="567.47" cy="667.1" r="11" fill="#ff0000" stroke="#000" stroke-width="0.9"/>
<circle cx="579.53" cy="696.6" r="11" fill="#ff0000" stroke="#000" stroke-width="0.9"/>
<circle cx="591.59" cy="744.8" r="11" fill="#ff0000" stroke="#000" stroke-width="0.9"/>
<circle cx="603.65" cy="786" r="11" fill="#ff0000" stroke="#000" stroke-width="0.9"/>
<circle cx="651.88" cy="846" r="11" fill="#ff0000" stroke="#000" stroke-width="0.9"/>
<circle cx="663.94" cy="870.1" r="11" fill="#ff0000" stroke="#000" stroke-width="0.9"/>
<circle cx="676" cy="876.2" r="11" fill="#ff0000" stroke="#000" stroke-width="0.9"/>
<circle cx="700.12" cy="877.3" r="11" fill="#ff0000" stroke="#000" stroke-width="0.9"/>
<circle cx="772.48" cy="899.3" r="11" fill="#ff0000" stroke="#000" stroke-width="0.9"/>
<circle cx="881.02" cy="900.9" r="11" fill="#ff0000" stroke="#000" stroke-width="0.9"/>
<circle cx="893.07" cy="913.5" r="11" fill="#ff0000" stroke="#000" stroke-width="0.9"/>
<circle cx="905.13" cy="920.2" r="11" fill="#ff0000" stroke="#000" stroke-width="0.9"/>
<polygon points="651.88,835.1 654.33,842.63 662.25,842.63 655.84,847.29 658.29,854.82 651.88,850.16 645.48,854.82 647.93,847.29 641.52,842.63 649.44,842.63" fill="#0000ff" stroke="#000" stroke-width="0.75" stroke-linejoin="miter"/>
<polygon points="663.94,859.2 666.39,866.73 674.31,866.73 667.9,871.39 670.35,878.92 663.94,874.26 657.54,878.92 659.98,871.39 653.58,866.73 661.5,866.73" fill="#0000ff" stroke="#000" stroke-width="0.75" stroke-linejoin="miter"/>
<polygon points="676,865.3 678.45,872.83 686.37,872.83 679.96,877.49 682.41,885.02 676,880.36 669.6,885.02 672.04,877.49 665.64,872.83 673.56,872.83" fill="#0000ff" stroke="#000" stroke-width="0.75" stroke-linejoin="miter"/>
<polygon points="700.12,866.4 702.57,873.93 710.49,873.93 704.08,878.59 706.53,886.12 700.12,881.46 693.72,886.12 696.16,878.59 689.76,873.93 697.68,873.93" fill="#0000ff" stroke="#000" stroke-width="0.75" stroke-linejoin="miter"/>
<polygon points="772.48,888.4 774.93,895.93 782.85,895.93 776.44,900.59 778.89,908.12 772.48,903.46 766.07,908.12 768.52,900.59 762.11,895.93 770.03,895.93" fill="#0000ff" stroke="#000" stroke-width="0.75" stroke-linejoin="miter"/>
<polygon points="881.02,890 883.46,897.53 891.38,897.53 884.97,902.19 887.42,909.72 881.02,905.06 874.61,909.72 877.06,902.19 870.65,897.53 878.57,897.53" fill="#0000ff" stroke="#000" stroke-width="0.75" stroke-linejoin="miter"/>
<polygon points="893.07,902.6 895.52,910.13 903.44,910.13 897.03,914.79 899.48,922.32 893.07,917.66 886.67,922.32 889.12,914.79 882.71,910.13 890.63,910.13" fill="#0000ff" stroke="#000" stroke-width="0.75" stroke-linejoin="miter"/>
<polygon points="905.13,909.3 907.58,916.83 915.5,916.83 909.09,921.49 911.54,929.02 905.13,924.36 898.73,929.02 901.17,921.49 894.77,916.83 902.69,916.83" fill="#0000ff" stroke="#000" stroke-width="0.75" stroke-linejoin="miter"/>
</g>
<rect x="83.4" y="652.45" width="2411.9" height="503.55" fill="none" stroke="#000" stroke-width="1.25"/>
<path d="M78.8 1156H83.4M78.8 1117.27H83.4M78.8 1078.53H83.4M78.8 1039.8H83.4M78.8 1001.06H83.4M78.8 962.33H83.4M78.8 923.59H83.4M78.8 884.86H83.4M78.8 846.12H83.4M78.8 807.39H83.4M78.8 768.65H83.4M78.8 729.92H83.4M78.8 691.18H83.4M78.8 652.45H83.4M83.4 1156V1160.6M143.7 1156V1160.6M204 1156V1160.6M264.29 1156V1160.6M324.59 1156V1160.6M384.89 1156V1160.6M445.18 1156V1160.6M505.48 1156V1160.6M565.78 1156V1160.6M626.08 1156V1160.6M686.38 1156V1160.6M746.67 1156V1160.6M806.97 1156V1160.6M867.27 1156V1160.6M927.56 1156V1160.6M987.86 1156V1160.6M1048.16 1156V1160.6M1108.46 1156V1160.6M1168.76 1156V1160.6M1229.05 1156V1160.6M1289.35 1156V1160.6M1349.65 1156V1160.6M1409.95 1156V1160.6M1470.24 1156V1160.6M1530.54 1156V1160.6M1590.84 1156V1160.6M1651.13 1156V1160.6M1711.43 1156V1160.6M1771.73 1156V1160.6M1832.03 1156V1160.6M1892.33 1156V1160.6M1952.62 1156V1160.6M2012.92 1156V1160.6M2073.22 1156V1160.6M2133.51 1156V1160.6M2193.81 1156V1160.6M2254.11 1156V1160.6M2314.41 1156V1160.6M2374.7 1156V1160.6M2435 1156V1160.6M2495.3 1156V1160.6" stroke="#000" stroke-width="1.25" fill="none"/>
<path d="M95.46 1156V1158.9M107.52 1156V1158.9M119.58 1156V1158.9M131.64 1156V1158.9M155.76 1156V1158.9M167.82 1156V1158.9M179.88 1156V1158.9M191.94 1156V1158.9M216.05 1156V1158.9M228.11 1156V1158.9M240.17 1156V1158.9M252.23 1156V1158.9M276.35 1156V1158.9M288.41 1156V1158.9M300.47 1156V1158.9M312.53 1156V1158.9M336.65 1156V1158.9M348.71 1156V1158.9M360.77 1156V1158.9M372.83 1156V1158.9M396.95 1156V1158.9M409.01 1156V1158.9M421.07 1156V1158.9M433.13 1156V1158.9M457.24 1156V1158.9M469.3 1156V1158.9M481.36 1156V1158.9M493.42 1156V1158.9M517.54 1156V1158.9M529.6 1156V1158.9M541.66 1156V1158.9M553.72 1156V1158.9M577.84 1156V1158.9M589.9 1156V1158.9M601.96 1156V1158.9M614.02 1156V1158.9M638.14 1156V1158.9M650.2 1156V1158.9M662.26 1156V1158.9M674.32 1156V1158.9M698.43 1156V1158.9M710.49 1156V1158.9M722.55 1156V1158.9M734.61 1156V1158.9M758.73 1156V1158.9M770.79 1156V1158.9M782.85 1156V1158.9M794.91 1156V1158.9M819.03 1156V1158.9M831.09 1156V1158.9M843.15 1156V1158.9M855.21 1156V1158.9M879.33 1156V1158.9M891.39 1156V1158.9M903.45 1156V1158.9M915.51 1156V1158.9M939.62 1156V1158.9M951.68 1156V1158.9M963.74 1156V1158.9M975.8 1156V1158.9M999.92 1156V1158.9M1011.98 1156V1158.9M1024.04 1156V1158.9M1036.1 1156V1158.9M1060.22 1156V1158.9M1072.28 1156V1158.9M1084.34 1156V1158.9M1096.4 1156V1158.9M1120.52 1156V1158.9M1132.58 1156V1158.9M1144.64 1156V1158.9M1156.7 1156V1158.9M1180.81 1156V1158.9M1192.87 1156V1158.9M1204.93 1156V1158.9M1216.99 1156V1158.9M1241.11 1156V1158.9M1253.17 1156V1158.9M1265.23 1156V1158.9M1277.29 1156V1158.9M1301.41 1156V1158.9M1313.47 1156V1158.9M1325.53 1156V1158.9M1337.59 1156V1158.9M1361.71 1156V1158.9M1373.77 1156V1158.9M1385.83 1156V1158.9M1397.89 1156V1158.9M1422 1156V1158.9M1434.06 1156V1158.9M1446.12 1156V1158.9M1458.18 1156V1158.9M1482.3 1156V1158.9M1494.36 1156V1158.9M1506.42 1156V1158.9M1518.48 1156V1158.9M1542.6 1156V1158.9M1554.66 1156V1158.9M1566.72 1156V1158.9M1578.78 1156V1158.9M1602.9 1156V1158.9M1614.96 1156V1158.9M1627.02 1156V1158.9M1639.08 1156V1158.9M1663.19 1156V1158.9M1675.25 1156V1158.9M1687.31 1156V1158.9M1699.37 1156V1158.9M1723.49 1156V1158.9M1735.55 1156V1158.9M1747.61 1156V1158.9M1759.67 1156V1158.9M1783.79 1156V1158.9M1795.85 1156V1158.9M1807.91 1156V1158.9M1819.97 1156V1158.9M1844.09 1156V1158.9M1856.15 1156V1158.9M1868.21 1156V1158.9M1880.27 1156V1158.9M1904.38 1156V1158.9M1916.44 1156V1158.9M1928.5 1156V1158.9M1940.56 1156V1158.9M1964.68 1156V1158.9M1976.74 1156V1158.9M1988.8 1156V1158.9M2000.86 1156V1158.9M2024.98 1156V1158.9M2037.04 1156V1158.9M2049.1 1156V1158.9M2061.16 1156V1158.9M2085.28 1156V1158.9M2097.34 1156V1158.9M2109.4 1156V1158.9M2121.46 1156V1158.9M2145.57 1156V1158.9M2157.63 1156V1158.9M2169.69 1156V1158.9M2181.75 1156V1158.9M2205.87 1156V1158.9M2217.93 1156V1158.9M2229.99 1156V1158.9M2242.05 1156V1158.9M2266.17 1156V1158.9M2278.23 1156V1158.9M2290.29 1156V1158.9M2302.35 1156V1158.9M2326.47 1156V1158.9M2338.53 1156V1158.9M2350.59 1156V1158.9M2362.65 1156V1158.9M2386.76 1156V1158.9M2398.82 1156V1158.9M2410.88 1156V1158.9M2422.94 1156V1158.9M2447.06 1156V1158.9M2459.12 1156V1158.9M2471.18 1156V1158.9M2483.24 1156V1158.9" stroke="#000" stroke-width="0.85" fill="none"/>
<g font-size="17.15" font-weight="bold" fill="#000" stroke="#000" stroke-width="0.35"><text x="74.2" y="1161.9" text-anchor="end" textLength="42.3" lengthAdjust="spacingAndGlyphs">6715</text><text x="2504.4" y="1161.9" textLength="42.3" lengthAdjust="spacingAndGlyphs">6715</text><text x="74.2" y="1123.17" text-anchor="end" textLength="42.3" lengthAdjust="spacingAndGlyphs">6720</text><text x="2504.4" y="1123.17" textLength="42.3" lengthAdjust="spacingAndGlyphs">6720</text><text x="74.2" y="1084.43" text-anchor="end" textLength="42.3" lengthAdjust="spacingAndGlyphs">6725</text><text x="2504.4" y="1084.43" textLength="42.3" lengthAdjust="spacingAndGlyphs">6725</text><text x="74.2" y="1045.7" text-anchor="end" textLength="42.3" lengthAdjust="spacingAndGlyphs">6730</text><text x="2504.4" y="1045.7" textLength="42.3" lengthAdjust="spacingAndGlyphs">6730</text><text x="74.2" y="1006.96" text-anchor="end" textLength="42.3" lengthAdjust="spacingAndGlyphs">6735</text><text x="2504.4" y="1006.96" textLength="42.3" lengthAdjust="spacingAndGlyphs">6735</text><text x="74.2" y="968.23" text-anchor="end" textLength="42.3" lengthAdjust="spacingAndGlyphs">6740</text><text x="2504.4" y="968.23" textLength="42.3" lengthAdjust="spacingAndGlyphs">6740</text><text x="74.2" y="929.49" text-anchor="end" textLength="42.3" lengthAdjust="spacingAndGlyphs">6745</text><text x="2504.4" y="929.49" textLength="42.3" lengthAdjust="spacingAndGlyphs">6745</text><text x="74.2" y="890.76" text-anchor="end" textLength="42.3" lengthAdjust="spacingAndGlyphs">6750</text><text x="2504.4" y="890.76" textLength="42.3" lengthAdjust="spacingAndGlyphs">6750</text><text x="74.2" y="852.02" text-anchor="end" textLength="42.3" lengthAdjust="spacingAndGlyphs">6755</text><text x="2504.4" y="852.02" textLength="42.3" lengthAdjust="spacingAndGlyphs">6755</text><text x="74.2" y="813.29" text-anchor="end" textLength="42.3" lengthAdjust="spacingAndGlyphs">6760</text><text x="2504.4" y="813.29" textLength="42.3" lengthAdjust="spacingAndGlyphs">6760</text><text x="74.2" y="774.55" text-anchor="end" textLength="42.3" lengthAdjust="spacingAndGlyphs">6765</text><text x="2504.4" y="774.55" textLength="42.3" lengthAdjust="spacingAndGlyphs">6765</text><text x="74.2" y="735.82" text-anchor="end" textLength="42.3" lengthAdjust="spacingAndGlyphs">6770</text><text x="2504.4" y="735.82" textLength="42.3" lengthAdjust="spacingAndGlyphs">6770</text><text x="74.2" y="697.08" text-anchor="end" textLength="42.3" lengthAdjust="spacingAndGlyphs">6775</text><text x="2504.4" y="697.08" textLength="42.3" lengthAdjust="spacingAndGlyphs">6775</text><text x="74.2" y="658.35" text-anchor="end" textLength="42.3" lengthAdjust="spacingAndGlyphs">6780</text><text x="2504.4" y="658.35" textLength="42.3" lengthAdjust="spacingAndGlyphs">6780</text></g>
<text x="84.21" y="644.7" font-size="21.2" font-weight="bold" font-style="normal" fill="#000" stroke="#000" stroke-width="0.35" textLength="37.27" lengthAdjust="spacingAndGlyphs">Put</text>
<text transform="translate(21.6 904.73) rotate(-90)" text-anchor="middle" font-size="13.7" font-weight="bold" stroke="#000" stroke-width="0.25" textLength="84" lengthAdjust="spacingAndGlyphs">Strike Price</text>
<g font-size="15.85" font-weight="bold" fill="#000" stroke="#000" stroke-width="0.35"><text transform="translate(98.05 1172.7) rotate(-60)" text-anchor="end" textLength="47.5" lengthAdjust="spacingAndGlyphs">09:20</text><text transform="translate(158.35 1172.7) rotate(-60)" text-anchor="end" textLength="47.5" lengthAdjust="spacingAndGlyphs">09:30</text><text transform="translate(218.65 1172.7) rotate(-60)" text-anchor="end" textLength="47.5" lengthAdjust="spacingAndGlyphs">09:40</text><text transform="translate(278.94 1172.7) rotate(-60)" text-anchor="end" textLength="47.5" lengthAdjust="spacingAndGlyphs">09:50</text><text transform="translate(339.24 1172.7) rotate(-60)" text-anchor="end" textLength="47.5" lengthAdjust="spacingAndGlyphs">10:00</text><text transform="translate(399.54 1172.7) rotate(-60)" text-anchor="end" textLength="47.5" lengthAdjust="spacingAndGlyphs">10:10</text><text transform="translate(459.83 1172.7) rotate(-60)" text-anchor="end" textLength="47.5" lengthAdjust="spacingAndGlyphs">10:20</text><text transform="translate(520.13 1172.7) rotate(-60)" text-anchor="end" textLength="47.5" lengthAdjust="spacingAndGlyphs">10:30</text><text transform="translate(580.43 1172.7) rotate(-60)" text-anchor="end" textLength="47.5" lengthAdjust="spacingAndGlyphs">10:40</text><text transform="translate(640.73 1172.7) rotate(-60)" text-anchor="end" textLength="47.5" lengthAdjust="spacingAndGlyphs">10:50</text><text transform="translate(701.02 1172.7) rotate(-60)" text-anchor="end" textLength="47.5" lengthAdjust="spacingAndGlyphs">11:00</text><text transform="translate(761.32 1172.7) rotate(-60)" text-anchor="end" textLength="47.5" lengthAdjust="spacingAndGlyphs">11:10</text><text transform="translate(821.62 1172.7) rotate(-60)" text-anchor="end" textLength="47.5" lengthAdjust="spacingAndGlyphs">11:20</text><text transform="translate(881.92 1172.7) rotate(-60)" text-anchor="end" textLength="47.5" lengthAdjust="spacingAndGlyphs">11:30</text><text transform="translate(942.21 1172.7) rotate(-60)" text-anchor="end" textLength="47.5" lengthAdjust="spacingAndGlyphs">11:40</text><text transform="translate(1002.51 1172.7) rotate(-60)" text-anchor="end" textLength="47.5" lengthAdjust="spacingAndGlyphs">11:50</text><text transform="translate(1062.81 1172.7) rotate(-60)" text-anchor="end" textLength="47.5" lengthAdjust="spacingAndGlyphs">12:00</text><text transform="translate(1123.11 1172.7) rotate(-60)" text-anchor="end" textLength="47.5" lengthAdjust="spacingAndGlyphs">12:10</text><text transform="translate(1183.41 1172.7) rotate(-60)" text-anchor="end" textLength="47.5" lengthAdjust="spacingAndGlyphs">12:20</text><text transform="translate(1243.7 1172.7) rotate(-60)" text-anchor="end" textLength="47.5" lengthAdjust="spacingAndGlyphs">12:30</text><text transform="translate(1304 1172.7) rotate(-60)" text-anchor="end" textLength="47.5" lengthAdjust="spacingAndGlyphs">12:40</text><text transform="translate(1364.3 1172.7) rotate(-60)" text-anchor="end" textLength="47.5" lengthAdjust="spacingAndGlyphs">12:50</text><text transform="translate(1424.6 1172.7) rotate(-60)" text-anchor="end" textLength="47.5" lengthAdjust="spacingAndGlyphs">13:00</text><text transform="translate(1484.89 1172.7) rotate(-60)" text-anchor="end" textLength="47.5" lengthAdjust="spacingAndGlyphs">13:10</text><text transform="translate(1545.19 1172.7) rotate(-60)" text-anchor="end" textLength="47.5" lengthAdjust="spacingAndGlyphs">13:20</text><text transform="translate(1605.49 1172.7) rotate(-60)" text-anchor="end" textLength="47.5" lengthAdjust="spacingAndGlyphs">13:30</text><text transform="translate(1665.79 1172.7) rotate(-60)" text-anchor="end" textLength="47.5" lengthAdjust="spacingAndGlyphs">13:40</text><text transform="translate(1726.08 1172.7) rotate(-60)" text-anchor="end" textLength="47.5" lengthAdjust="spacingAndGlyphs">13:50</text><text transform="translate(1786.38 1172.7) rotate(-60)" text-anchor="end" textLength="47.5" lengthAdjust="spacingAndGlyphs">14:00</text><text transform="translate(1846.68 1172.7) rotate(-60)" text-anchor="end" textLength="47.5" lengthAdjust="spacingAndGlyphs">14:10</text><text transform="translate(1906.98 1172.7) rotate(-60)" text-anchor="end" textLength="47.5" lengthAdjust="spacingAndGlyphs">14:20</text><text transform="translate(1967.27 1172.7) rotate(-60)" text-anchor="end" textLength="47.5" lengthAdjust="spacingAndGlyphs">14:30</text><text transform="translate(2027.57 1172.7) rotate(-60)" text-anchor="end" textLength="47.5" lengthAdjust="spacingAndGlyphs">14:40</text><text transform="translate(2087.87 1172.7) rotate(-60)" text-anchor="end" textLength="47.5" lengthAdjust="spacingAndGlyphs">14:50</text><text transform="translate(2148.16 1172.7) rotate(-60)" text-anchor="end" textLength="47.5" lengthAdjust="spacingAndGlyphs">15:00</text><text transform="translate(2208.46 1172.7) rotate(-60)" text-anchor="end" textLength="47.5" lengthAdjust="spacingAndGlyphs">15:10</text><text transform="translate(2268.76 1172.7) rotate(-60)" text-anchor="end" textLength="47.5" lengthAdjust="spacingAndGlyphs">15:20</text><text transform="translate(2329.06 1172.7) rotate(-60)" text-anchor="end" textLength="47.5" lengthAdjust="spacingAndGlyphs">15:30</text><text transform="translate(2389.36 1172.7) rotate(-60)" text-anchor="end" textLength="47.5" lengthAdjust="spacingAndGlyphs">15:40</text><text transform="translate(2449.65 1172.7) rotate(-60)" text-anchor="end" textLength="47.5" lengthAdjust="spacingAndGlyphs">15:50</text><text transform="translate(2509.95 1172.7) rotate(-60)" text-anchor="end" textLength="47.5" lengthAdjust="spacingAndGlyphs">16:00</text></g>
<text x="960.47" y="52.8" font-size="21.4" font-weight="bold" font-style="normal" fill="#000" stroke="#000" stroke-width="0.35" textLength="638.9" lengthAdjust="spacingAndGlyphs">HYDATA Call/Put Net Heatmap with Squeeze Alert (CP5)</text>
<text x="1001.46" y="73.9" font-size="21.4" font-weight="bold" font-style="normal" fill="#000" stroke="#000" stroke-width="0.35" textLength="556.21" lengthAdjust="spacingAndGlyphs">Data as of 2025-12-17 11:36 EST · Spot: 6745.55</text>
<rect x="2192.6" y="22.6" width="165.2" height="62.9" rx="2.5" fill="#fff" stroke="#808080" stroke-width="1.25"/>
<text x="2197.26" y="39.1" font-size="18.3" font-weight="bold" font-style="normal" fill="#000" stroke="#000" stroke-width="0.35" textLength="156.96" lengthAdjust="spacingAndGlyphs">1: 6750 Buy Put</text>
<text x="2197.19" y="59.4" font-size="18.3" font-weight="bold" font-style="normal" fill="#000" stroke="#000" stroke-width="0.35" textLength="157.59" lengthAdjust="spacingAndGlyphs">2: 6740 Buy Put</text>
<text x="2196.57" y="79.4" font-size="18.3" font-weight="bold" font-style="normal" fill="#000" stroke="#000" stroke-width="0.35" textLength="157.23" lengthAdjust="spacingAndGlyphs">3: 6745 Buy Put</text>
<rect x="937.8" y="1232.5" width="685.9" height="41" rx="2.5" fill="#fff" fill-opacity="0.8" stroke="#cccccc" stroke-width="1.25"/>
<path d="M955 1236.1L947.9 1250.3L962.1 1250.3Z" fill="#008000"/>
<path d="M955 1268.7L947.9 1254.5L962.1 1254.5Z" fill="#ff0000"/>
<path d="M1072.9 1236.1L1065.8 1250.3L1080 1250.3Z" fill="#008000"/>
<path d="M1072.9 1268.7L1065.8 1254.5L1080 1254.5Z" fill="#ff0000"/>
<polygon points="1187,1235.5 1188.84,1241.17 1194.8,1241.17 1189.98,1244.67 1191.82,1250.33 1187,1246.83 1182.18,1250.33 1184.02,1244.67 1179.2,1241.17 1185.16,1241.17" fill="#ffd700"/>
<circle cx="1187" cy="1261.6" r="8.2" fill="#008000"/>
<polygon points="1340.2,1235.5 1342.04,1241.17 1348,1241.17 1343.18,1244.67 1345.02,1250.33 1340.2,1246.83 1335.38,1250.33 1337.22,1244.67 1332.4,1241.17 1338.36,1241.17" fill="#0000ff"/>
<circle cx="1340.2" cy="1261.6" r="8.2" fill="#ff0000"/>
<path d="M1517.9 1243.2H1542.5" stroke="#0000ff" stroke-width="3.1" stroke-dasharray="9 6.6"/>
<text x="977.62" y="1246.9" font-size="13.1" font-weight="normal" font-style="normal" fill="#262626" textLength="56.1" lengthAdjust="spacingAndGlyphs">Call: Buy</text>
<text x="977.64" y="1265.3" font-size="13.1" font-weight="normal" font-style="normal" fill="#262626" textLength="54.74" lengthAdjust="spacingAndGlyphs">Call: Sell</text>
<text x="1094.98" y="1246.9" font-size="13.1" font-weight="normal" font-style="normal" fill="#262626" textLength="52.52" lengthAdjust="spacingAndGlyphs">Put: Sell</text>
<text x="1095" y="1265.3" font-size="13.1" font-weight="normal" font-style="normal" fill="#262626" textLength="52.86" lengthAdjust="spacingAndGlyphs">Put: Buy</text>
<text x="1208.96" y="1246.9" font-size="13.1" font-weight="normal" font-style="normal" fill="#262626" textLength="92.46" lengthAdjust="spacingAndGlyphs">Short Squeeze</text>
<text x="1209.06" y="1265.3" font-size="13.1" font-weight="normal" font-style="normal" fill="#262626" textLength="88.11" lengthAdjust="spacingAndGlyphs">Slow Squeeze</text>
<text x="1361.88" y="1246.9" font-size="13.1" font-weight="normal" font-style="normal" fill="#262626" textLength="126.29" lengthAdjust="spacingAndGlyphs">Fast Downside Slide</text>
<text x="1361.96" y="1265.3" font-size="13.1" font-weight="normal" font-style="normal" fill="#262626" textLength="130.94" lengthAdjust="spacingAndGlyphs">Slow Downside Slide</text>
<text x="1554.44" y="1246.9" font-size="13.1" font-weight="normal" font-style="normal" fill="#262626" textLength="63.63" lengthAdjust="spacingAndGlyphs">Spot Price</text>
<text x="127.58" y="1246.8" font-size="11.65" font-weight="normal" font-style="italic" fill="#333" textLength="242.68" lengthAdjust="spacingAndGlyphs">Copyright, Intellectual Property of HYDATA</text>
<text x="135.38" y="1260.5" font-size="11.65" font-weight="normal" font-style="italic" fill="#333" textLength="194.01" lengthAdjust="spacingAndGlyphs">(This is not an investment advice)</text>
</svg></body></html>
